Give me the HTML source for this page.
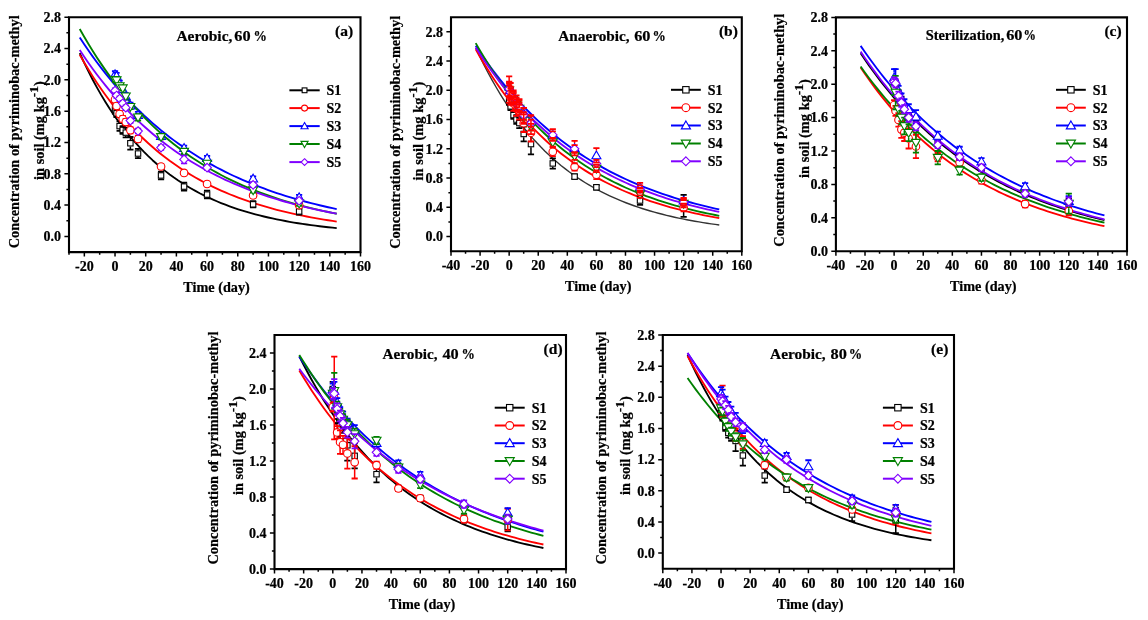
<!DOCTYPE html>
<html><head><meta charset="utf-8"><style>
html,body{margin:0;padding:0;background:#fff;width:1148px;height:620px;overflow:hidden}
svg{display:block;will-change:transform}
text{font-family:'Liberation Serif',serif;font-weight:bold;fill:#000;stroke:#000;stroke-width:0.22px}
</style></head><body>
<svg width="1148" height="620" viewBox="0 0 1148 620">
<rect width="1148" height="620" fill="#fff"/>
<polyline points="79.74,53.22 84.02,62.43 88.31,71.18 92.59,79.48 96.87,87.37 101.15,94.87 105.44,101.98 109.72,108.74 114,115.16 118.29,121.26 122.57,127.05 126.85,132.55 131.14,137.77 135.42,142.73 139.7,147.44 143.98,151.91 148.27,156.16 152.55,160.2 156.83,164.03 161.12,167.67 165.4,171.13 169.68,174.41 173.97,177.53 178.25,180.49 182.53,183.3 186.81,185.97 191.1,188.51 195.38,190.92 199.66,193.21 203.95,195.38 208.23,197.44 212.51,199.4 216.8,201.27 221.08,203.03 225.36,204.71 229.64,206.31 233.93,207.82 238.21,209.26 242.49,210.63 246.78,211.92 251.06,213.16 255.34,214.33 259.63,215.44 263.91,216.49 268.19,217.5 272.47,218.45 276.76,219.35 281.04,220.21 285.32,221.03 289.61,221.8 293.89,222.54 298.17,223.24 302.46,223.9 306.74,224.53 311.02,225.13 315.3,225.7 319.59,226.24 323.87,226.75 328.15,227.24 332.44,227.7 336.72,228.14" fill="none" stroke="#000000" stroke-width="1.85" stroke-linejoin="round"/>
<polyline points="79.74,54.78 84.02,62.2 88.31,69.32 92.59,76.15 96.87,82.7 101.15,88.98 105.44,95 109.72,100.78 114,106.32 118.29,111.63 122.57,116.73 126.85,121.62 131.14,126.31 135.42,130.81 139.7,135.12 143.98,139.26 148.27,143.23 152.55,147.04 156.83,150.69 161.12,154.19 165.4,157.55 169.68,160.78 173.97,163.87 178.25,166.83 182.53,169.67 186.81,172.4 191.1,175.02 195.38,177.53 199.66,179.93 203.95,182.24 208.23,184.45 212.51,186.58 216.8,188.61 221.08,190.57 225.36,192.44 229.64,194.24 233.93,195.96 238.21,197.62 242.49,199.2 246.78,200.72 251.06,202.18 255.34,203.58 259.63,204.92 263.91,206.21 268.19,207.45 272.47,208.63 276.76,209.77 281.04,210.86 285.32,211.9 289.61,212.9 293.89,213.86 298.17,214.79 302.46,215.67 306.74,216.52 311.02,217.33 315.3,218.11 319.59,218.86 323.87,219.58 328.15,220.27 332.44,220.93 336.72,221.56" fill="none" stroke="#FF0000" stroke-width="1.85" stroke-linejoin="round"/>
<polyline points="79.74,37.56 84.02,44.03 88.31,50.29 92.59,56.35 96.87,62.21 101.15,67.88 105.44,73.36 109.72,78.67 114,83.8 118.29,88.77 122.57,93.57 126.85,98.22 131.14,102.72 135.42,107.07 139.7,111.28 143.98,115.35 148.27,119.29 152.55,123.11 156.83,126.79 161.12,130.36 165.4,133.81 169.68,137.15 173.97,140.38 178.25,143.51 182.53,146.53 186.81,149.46 191.1,152.29 195.38,155.03 199.66,157.68 203.95,160.24 208.23,162.72 212.51,165.12 216.8,167.44 221.08,169.68 225.36,171.86 229.64,173.96 233.93,175.99 238.21,177.96 242.49,179.86 246.78,181.7 251.06,183.48 255.34,185.21 259.63,186.87 263.91,188.49 268.19,190.05 272.47,191.56 276.76,193.02 281.04,194.43 285.32,195.8 289.61,197.12 293.89,198.4 298.17,199.64 302.46,200.83 306.74,201.99 311.02,203.11 315.3,204.2 319.59,205.25 323.87,206.26 328.15,207.24 332.44,208.19 336.72,209.11" fill="none" stroke="#0000FF" stroke-width="1.85" stroke-linejoin="round"/>
<polyline points="79.74,28.94 84.02,36.46 88.31,43.7 92.59,50.67 96.87,57.4 101.15,63.88 105.44,70.13 109.72,76.15 114,81.95 118.29,87.54 122.57,92.94 126.85,98.13 131.14,103.14 135.42,107.96 139.7,112.61 143.98,117.1 148.27,121.42 152.55,125.58 156.83,129.6 161.12,133.46 165.4,137.19 169.68,140.78 173.97,144.25 178.25,147.58 182.53,150.8 186.81,153.9 191.1,156.89 195.38,159.77 199.66,162.55 203.95,165.22 208.23,167.8 212.51,170.28 216.8,172.68 221.08,174.99 225.36,177.21 229.64,179.36 233.93,181.42 238.21,183.41 242.49,185.33 246.78,187.18 251.06,188.97 255.34,190.69 259.63,192.34 263.91,193.94 268.19,195.48 272.47,196.96 276.76,198.39 281.04,199.77 285.32,201.09 289.61,202.37 293.89,203.61 298.17,204.8 302.46,205.94 306.74,207.05 311.02,208.11 315.3,209.14 319.59,210.12 323.87,211.08 328.15,212 332.44,212.88 336.72,213.73" fill="none" stroke="#008000" stroke-width="1.85" stroke-linejoin="round"/>
<polyline points="79.74,50.09 84.02,56.5 88.31,62.69 92.59,68.67 96.87,74.45 101.15,80.02 105.44,85.41 109.72,90.61 114,95.63 118.29,100.47 122.57,105.15 126.85,109.67 131.14,114.03 135.42,118.25 139.7,122.32 143.98,126.24 148.27,130.04 152.55,133.7 156.83,137.24 161.12,140.65 165.4,143.95 169.68,147.13 173.97,150.2 178.25,153.17 182.53,156.04 186.81,158.81 191.1,161.48 195.38,164.06 199.66,166.55 203.95,168.95 208.23,171.28 212.51,173.52 216.8,175.69 221.08,177.78 225.36,179.8 229.64,181.75 233.93,183.63 238.21,185.45 242.49,187.2 246.78,188.9 251.06,190.53 255.34,192.11 259.63,193.64 263.91,195.11 268.19,196.53 272.47,197.91 276.76,199.23 281.04,200.51 285.32,201.75 289.61,202.94 293.89,204.1 298.17,205.21 302.46,206.29 306.74,207.32 311.02,208.33 315.3,209.29 319.59,210.23 323.87,211.13 328.15,212 332.44,212.84 336.72,213.65" fill="none" stroke="#8000FF" stroke-width="1.85" stroke-linejoin="round"/>
<path d="M111.93 105.68H118.13M111.93 113.51H118.13" stroke="#000000" stroke-width="1.8" fill="none"/>
<path d="M115.03 105.68V106.29M115.03 112.89V113.51" stroke="#000000" stroke-width="1.5" fill="none"/>
<rect x="112.33" y="106.89" width="5.4" height="5.4" fill="#fff" stroke="#000000" stroke-width="1.1"/>
<path d="M113.46 109.36H119.66M113.46 117.19H119.66" stroke="#000000" stroke-width="1.8" fill="none"/>
<path d="M116.56 109.36V109.97M116.56 116.57V117.19" stroke="#000000" stroke-width="1.5" fill="none"/>
<rect x="113.86" y="110.57" width="5.4" height="5.4" fill="#fff" stroke="#000000" stroke-width="1.1"/>
<path d="M116.53 121.42H122.73M116.53 130.81H122.73" stroke="#000000" stroke-width="1.8" fill="none"/>
<path d="M119.63 121.42V122.82M119.63 129.42V130.81" stroke="#000000" stroke-width="1.5" fill="none"/>
<rect x="116.93" y="123.42" width="5.4" height="5.4" fill="#fff" stroke="#000000" stroke-width="1.1"/>
<path d="M119.6 126.04H125.8M119.6 133.87H125.8" stroke="#000000" stroke-width="1.8" fill="none"/>
<path d="M122.7 126.04V126.65M122.7 133.25V133.87" stroke="#000000" stroke-width="1.5" fill="none"/>
<rect x="120" y="127.25" width="5.4" height="5.4" fill="#fff" stroke="#000000" stroke-width="1.1"/>
<path d="M122.67 127.92H128.87M122.67 137.31H128.87" stroke="#000000" stroke-width="1.8" fill="none"/>
<path d="M125.77 127.92V129.31M125.77 135.91V137.31" stroke="#000000" stroke-width="1.5" fill="none"/>
<rect x="123.07" y="129.91" width="5.4" height="5.4" fill="#fff" stroke="#000000" stroke-width="1.1"/>
<path d="M127.27 137H133.47M127.27 149.53H133.47" stroke="#000000" stroke-width="1.8" fill="none"/>
<path d="M130.37 137V139.96M130.37 146.56V149.53" stroke="#000000" stroke-width="1.5" fill="none"/>
<rect x="127.67" y="140.56" width="5.4" height="5.4" fill="#fff" stroke="#000000" stroke-width="1.1"/>
<path d="M134.94 148.82H141.14M134.94 158.22H141.14" stroke="#000000" stroke-width="1.8" fill="none"/>
<path d="M138.04 148.82V150.22M138.04 156.82V158.22" stroke="#000000" stroke-width="1.5" fill="none"/>
<rect x="135.34" y="150.82" width="5.4" height="5.4" fill="#fff" stroke="#000000" stroke-width="1.1"/>
<path d="M157.95 171.53H164.15M157.95 179.36H164.15" stroke="#000000" stroke-width="1.8" fill="none"/>
<path d="M161.05 171.53V172.14M161.05 178.74V179.36" stroke="#000000" stroke-width="1.5" fill="none"/>
<rect x="158.35" y="172.74" width="5.4" height="5.4" fill="#fff" stroke="#000000" stroke-width="1.1"/>
<path d="M180.97 182.65H187.17M180.97 190.48H187.17" stroke="#000000" stroke-width="1.8" fill="none"/>
<path d="M184.07 182.65V183.26M184.07 189.86V190.48" stroke="#000000" stroke-width="1.5" fill="none"/>
<rect x="181.37" y="183.86" width="5.4" height="5.4" fill="#fff" stroke="#000000" stroke-width="1.1"/>
<path d="M203.98 190.63H210.18M203.98 198.46H210.18" stroke="#000000" stroke-width="1.8" fill="none"/>
<path d="M207.08 190.63V191.25M207.08 197.85V198.46" stroke="#000000" stroke-width="1.5" fill="none"/>
<rect x="204.38" y="191.85" width="5.4" height="5.4" fill="#fff" stroke="#000000" stroke-width="1.1"/>
<path d="M250.01 201.2H256.21M250.01 207.47H256.21" stroke="#000000" stroke-width="1.8" fill="none"/>
<rect x="250.41" y="201.64" width="5.4" height="5.4" fill="#fff" stroke="#000000" stroke-width="1.1"/>
<path d="M296.03 208.33H302.23M296.03 214.59H302.23" stroke="#000000" stroke-width="1.8" fill="none"/>
<rect x="296.43" y="208.76" width="5.4" height="5.4" fill="#fff" stroke="#000000" stroke-width="1.1"/>
<path d="M111.93 97.22H118.13M111.93 101.92H118.13" stroke="#FF0000" stroke-width="1.8" fill="none"/>
<circle cx="115.03" cy="99.57" r="3.8" fill="#fff" stroke="#FF0000" stroke-width="1.1"/>
<path d="M113.46 103.72H119.66M113.46 108.42H119.66" stroke="#FF0000" stroke-width="1.8" fill="none"/>
<circle cx="116.56" cy="106.07" r="3.8" fill="#fff" stroke="#FF0000" stroke-width="1.1"/>
<path d="M116.53 110.93H122.73M116.53 117.19H122.73" stroke="#FF0000" stroke-width="1.8" fill="none"/>
<circle cx="119.63" cy="114.06" r="3.8" fill="#fff" stroke="#FF0000" stroke-width="1.1"/>
<path d="M119.6 115.86H125.8M119.6 122.12H125.8" stroke="#FF0000" stroke-width="1.8" fill="none"/>
<circle cx="122.7" cy="118.99" r="3.8" fill="#fff" stroke="#FF0000" stroke-width="1.1"/>
<path d="M122.67 118.99H128.87M122.67 125.25H128.87" stroke="#FF0000" stroke-width="1.8" fill="none"/>
<circle cx="125.77" cy="122.12" r="3.8" fill="#fff" stroke="#FF0000" stroke-width="1.1"/>
<path d="M127.27 127.13H133.47M127.27 133.4H133.47" stroke="#FF0000" stroke-width="1.8" fill="none"/>
<circle cx="130.37" cy="130.27" r="3.8" fill="#fff" stroke="#FF0000" stroke-width="1.1"/>
<path d="M134.94 135.9H141.14M134.94 142.17H141.14" stroke="#FF0000" stroke-width="1.8" fill="none"/>
<circle cx="138.04" cy="139.03" r="3.8" fill="#fff" stroke="#FF0000" stroke-width="1.1"/>
<path d="M157.95 164.17H164.15M157.95 168.87H164.15" stroke="#FF0000" stroke-width="1.8" fill="none"/>
<circle cx="161.05" cy="166.52" r="3.8" fill="#fff" stroke="#FF0000" stroke-width="1.1"/>
<path d="M180.97 170.59H187.17M180.97 175.29H187.17" stroke="#FF0000" stroke-width="1.8" fill="none"/>
<circle cx="184.07" cy="172.94" r="3.8" fill="#fff" stroke="#FF0000" stroke-width="1.1"/>
<path d="M203.98 181.63H210.18M203.98 186.33H210.18" stroke="#FF0000" stroke-width="1.8" fill="none"/>
<circle cx="207.08" cy="183.98" r="3.8" fill="#fff" stroke="#FF0000" stroke-width="1.1"/>
<path d="M250.01 193.06H256.21M250.01 197.76H256.21" stroke="#FF0000" stroke-width="1.8" fill="none"/>
<circle cx="253.11" cy="195.41" r="3.8" fill="#fff" stroke="#FF0000" stroke-width="1.1"/>
<path d="M296.03 202.93H302.23M296.03 207.63H302.23" stroke="#FF0000" stroke-width="1.8" fill="none"/>
<circle cx="299.13" cy="205.28" r="3.8" fill="#fff" stroke="#FF0000" stroke-width="1.1"/>
<path d="M111.93 71.23H118.13M111.93 77.49H118.13" stroke="#0000FF" stroke-width="1.8" fill="none"/>
<path d="M115.03 69.87L119.53 77.67L110.53 77.67Z" fill="#fff" stroke="#0000FF" stroke-width="1.1"/>
<path d="M113.46 72.79H119.66M113.46 79.06H119.66" stroke="#0000FF" stroke-width="1.8" fill="none"/>
<path d="M116.56 71.44L121.06 79.24L112.06 79.24Z" fill="#fff" stroke="#0000FF" stroke-width="1.1"/>
<path d="M116.53 80.62H122.73M116.53 86.89H122.73" stroke="#0000FF" stroke-width="1.8" fill="none"/>
<path d="M119.63 79.27L124.13 87.07L115.13 87.07Z" fill="#fff" stroke="#0000FF" stroke-width="1.1"/>
<path d="M119.6 86.1H125.8M119.6 92.37H125.8" stroke="#0000FF" stroke-width="1.8" fill="none"/>
<path d="M122.7 84.75L127.2 92.55L118.2 92.55Z" fill="#fff" stroke="#0000FF" stroke-width="1.1"/>
<path d="M122.67 93.15H128.87M122.67 99.41H128.87" stroke="#0000FF" stroke-width="1.8" fill="none"/>
<path d="M125.77 91.8L130.27 99.6L121.27 99.6Z" fill="#fff" stroke="#0000FF" stroke-width="1.1"/>
<path d="M127.27 102.55H133.47M127.27 108.81H133.47" stroke="#0000FF" stroke-width="1.8" fill="none"/>
<path d="M130.37 101.19L134.87 108.99L125.87 108.99Z" fill="#fff" stroke="#0000FF" stroke-width="1.1"/>
<path d="M134.94 111.94H141.14M134.94 118.21H141.14" stroke="#0000FF" stroke-width="1.8" fill="none"/>
<path d="M138.04 110.59L142.54 118.39L133.54 118.39Z" fill="#fff" stroke="#0000FF" stroke-width="1.1"/>
<path d="M157.95 133.87H164.15M157.95 138.56H164.15" stroke="#0000FF" stroke-width="1.8" fill="none"/>
<path d="M161.05 131.73L165.55 139.53L156.55 139.53Z" fill="#fff" stroke="#0000FF" stroke-width="1.1"/>
<path d="M180.97 145.69H187.17M180.97 150.39H187.17" stroke="#0000FF" stroke-width="1.8" fill="none"/>
<path d="M184.07 143.55L188.57 151.35L179.57 151.35Z" fill="#fff" stroke="#0000FF" stroke-width="1.1"/>
<path d="M203.98 155.87H210.18M203.98 160.57H210.18" stroke="#0000FF" stroke-width="1.8" fill="none"/>
<path d="M207.08 153.73L211.58 161.53L202.58 161.53Z" fill="#fff" stroke="#0000FF" stroke-width="1.1"/>
<path d="M250.01 176.31H256.21M250.01 181H256.21" stroke="#0000FF" stroke-width="1.8" fill="none"/>
<path d="M253.11 174.17L257.61 181.97L248.61 181.97Z" fill="#fff" stroke="#0000FF" stroke-width="1.1"/>
<path d="M296.03 194.94H302.23M296.03 199.64H302.23" stroke="#0000FF" stroke-width="1.8" fill="none"/>
<path d="M299.13 192.81L303.63 200.6L294.63 200.6Z" fill="#fff" stroke="#0000FF" stroke-width="1.1"/>
<path d="M111.93 77.49H118.13M111.93 82.19H118.13" stroke="#008000" stroke-width="1.8" fill="none"/>
<path d="M115.03 84.32L119.53 76.52L110.53 76.52Z" fill="#fff" stroke="#008000" stroke-width="1.1"/>
<path d="M113.46 77.88H119.66M113.46 82.58H119.66" stroke="#008000" stroke-width="1.8" fill="none"/>
<path d="M116.56 84.72L121.06 76.92L112.06 76.92Z" fill="#fff" stroke="#008000" stroke-width="1.1"/>
<path d="M116.53 83.75H122.73M116.53 88.45H122.73" stroke="#008000" stroke-width="1.8" fill="none"/>
<path d="M119.63 90.59L124.13 82.79L115.13 82.79Z" fill="#fff" stroke="#008000" stroke-width="1.1"/>
<path d="M119.6 85.87H125.8M119.6 90.57H125.8" stroke="#008000" stroke-width="1.8" fill="none"/>
<path d="M122.7 92.7L127.2 84.9L118.2 84.9Z" fill="#fff" stroke="#008000" stroke-width="1.1"/>
<path d="M122.67 94.01H128.87M122.67 98.71H128.87" stroke="#008000" stroke-width="1.8" fill="none"/>
<path d="M125.77 100.85L130.27 93.05L121.27 93.05Z" fill="#fff" stroke="#008000" stroke-width="1.1"/>
<path d="M127.27 104.5H133.47M127.27 109.2H133.47" stroke="#008000" stroke-width="1.8" fill="none"/>
<path d="M130.37 111.34L134.87 103.54L125.87 103.54Z" fill="#fff" stroke="#008000" stroke-width="1.1"/>
<path d="M134.94 114.21H141.14M134.94 120.48H141.14" stroke="#008000" stroke-width="1.8" fill="none"/>
<path d="M138.04 121.83L142.54 114.03L133.54 114.03Z" fill="#fff" stroke="#008000" stroke-width="1.1"/>
<path d="M157.95 134.57H164.15M157.95 139.27H164.15" stroke="#008000" stroke-width="1.8" fill="none"/>
<path d="M161.05 141.41L165.55 133.61L156.55 133.61Z" fill="#fff" stroke="#008000" stroke-width="1.1"/>
<path d="M180.97 149.29H187.17M180.97 153.99H187.17" stroke="#008000" stroke-width="1.8" fill="none"/>
<path d="M184.07 156.13L188.57 148.33L179.57 148.33Z" fill="#fff" stroke="#008000" stroke-width="1.1"/>
<path d="M203.98 161.19H210.18M203.98 165.89H210.18" stroke="#008000" stroke-width="1.8" fill="none"/>
<path d="M207.08 168.03L211.58 160.23L202.58 160.23Z" fill="#fff" stroke="#008000" stroke-width="1.1"/>
<path d="M250.01 187.82H256.21M250.01 192.51H256.21" stroke="#008000" stroke-width="1.8" fill="none"/>
<path d="M253.11 194.65L257.61 186.85L248.61 186.85Z" fill="#fff" stroke="#008000" stroke-width="1.1"/>
<path d="M296.03 201.13H302.23M296.03 205.82H302.23" stroke="#008000" stroke-width="1.8" fill="none"/>
<path d="M299.13 207.96L303.63 200.16L294.63 200.16Z" fill="#fff" stroke="#008000" stroke-width="1.1"/>
<path d="M111.93 88.3H118.13M111.93 92.99H118.13" stroke="#8000FF" stroke-width="1.8" fill="none"/>
<path d="M115.03 86.35L119.33 90.65L115.03 94.95L110.73 90.65Z" fill="#fff" stroke="#8000FF" stroke-width="1.1"/>
<path d="M113.46 93.15H119.66M113.46 97.85H119.66" stroke="#8000FF" stroke-width="1.8" fill="none"/>
<path d="M116.56 91.2L120.86 95.5L116.56 99.8L112.26 95.5Z" fill="#fff" stroke="#8000FF" stroke-width="1.1"/>
<path d="M116.53 96.36H122.73M116.53 101.06H122.73" stroke="#8000FF" stroke-width="1.8" fill="none"/>
<path d="M119.63 94.41L123.93 98.71L119.63 103.01L115.33 98.71Z" fill="#fff" stroke="#8000FF" stroke-width="1.1"/>
<path d="M119.6 100.98H125.8M119.6 105.68H125.8" stroke="#8000FF" stroke-width="1.8" fill="none"/>
<path d="M122.7 99.03L127 103.33L122.7 107.63L118.4 103.33Z" fill="#fff" stroke="#8000FF" stroke-width="1.1"/>
<path d="M122.67 105.29H128.87M122.67 109.99H128.87" stroke="#8000FF" stroke-width="1.8" fill="none"/>
<path d="M125.77 103.34L130.07 107.64L125.77 111.94L121.47 107.64Z" fill="#fff" stroke="#8000FF" stroke-width="1.1"/>
<path d="M127.27 118.21H133.47M127.27 122.91H133.47" stroke="#8000FF" stroke-width="1.8" fill="none"/>
<path d="M130.37 116.26L134.67 120.56L130.37 124.86L126.07 120.56Z" fill="#fff" stroke="#8000FF" stroke-width="1.1"/>
<path d="M134.94 128.7H141.14M134.94 133.4H141.14" stroke="#8000FF" stroke-width="1.8" fill="none"/>
<path d="M138.04 126.75L142.34 131.05L138.04 135.35L133.74 131.05Z" fill="#fff" stroke="#8000FF" stroke-width="1.1"/>
<path d="M157.95 145.22H164.15M157.95 149.92H164.15" stroke="#8000FF" stroke-width="1.8" fill="none"/>
<path d="M161.05 143.27L165.35 147.57L161.05 151.87L156.75 147.57Z" fill="#fff" stroke="#8000FF" stroke-width="1.1"/>
<path d="M180.97 155.56H187.17M180.97 163.39H187.17" stroke="#8000FF" stroke-width="1.8" fill="none"/>
<path d="M184.07 155.17L188.37 159.47L184.07 163.77L179.77 159.47Z" fill="#fff" stroke="#8000FF" stroke-width="1.1"/>
<path d="M203.98 165.27H210.18M203.98 169.96H210.18" stroke="#8000FF" stroke-width="1.8" fill="none"/>
<path d="M207.08 163.31L211.38 167.61L207.08 171.91L202.78 167.61Z" fill="#fff" stroke="#8000FF" stroke-width="1.1"/>
<path d="M250.01 182.49H256.21M250.01 187.19H256.21" stroke="#8000FF" stroke-width="1.8" fill="none"/>
<path d="M253.11 180.54L257.41 184.84L253.11 189.14L248.81 184.84Z" fill="#fff" stroke="#8000FF" stroke-width="1.1"/>
<path d="M296.03 198.39H302.23M296.03 203.08H302.23" stroke="#8000FF" stroke-width="1.8" fill="none"/>
<path d="M299.13 196.44L303.43 200.74L299.13 205.04L294.83 200.74Z" fill="#fff" stroke="#8000FF" stroke-width="1.1"/>
<path d="M69 17.2H360.5V252.1H69Z" fill="none" stroke="#000" stroke-width="2.1"/>
<text x="61" y="241.14" text-anchor="end" font-size="14">0.0</text>
<text x="61" y="209.82" text-anchor="end" font-size="14">0.4</text>
<text x="61" y="178.5" text-anchor="end" font-size="14">0.8</text>
<text x="61" y="147.18" text-anchor="end" font-size="14">1.2</text>
<text x="61" y="115.86" text-anchor="end" font-size="14">1.6</text>
<text x="61" y="84.54" text-anchor="end" font-size="14">2.0</text>
<text x="61" y="53.22" text-anchor="end" font-size="14">2.4</text>
<text x="61" y="21.9" text-anchor="end" font-size="14">2.8</text>
<text x="84.34" y="271.3" text-anchor="middle" font-size="14">-20</text>
<text x="115.03" y="271.3" text-anchor="middle" font-size="14">0</text>
<text x="145.71" y="271.3" text-anchor="middle" font-size="14">20</text>
<text x="176.39" y="271.3" text-anchor="middle" font-size="14">40</text>
<text x="207.08" y="271.3" text-anchor="middle" font-size="14">60</text>
<text x="237.76" y="271.3" text-anchor="middle" font-size="14">80</text>
<text x="268.45" y="271.3" text-anchor="middle" font-size="14">100</text>
<text x="299.13" y="271.3" text-anchor="middle" font-size="14">120</text>
<text x="329.82" y="271.3" text-anchor="middle" font-size="14">140</text>
<text x="360.5" y="271.3" text-anchor="middle" font-size="14">160</text>
<path d="M64.4 236.44H69M64.4 205.12H69M64.4 173.8H69M64.4 142.48H69M64.4 111.16H69M64.4 79.84H69M64.4 48.52H69M64.4 17.2H69M66.4 220.78H69M66.4 189.46H69M66.4 158.14H69M66.4 126.82H69M66.4 95.5H69M66.4 64.18H69M66.4 32.86H69M84.34 252.1V256.6M115.03 252.1V256.6M145.71 252.1V256.6M176.39 252.1V256.6M207.08 252.1V256.6M237.76 252.1V256.6M268.45 252.1V256.6M299.13 252.1V256.6M329.82 252.1V256.6M360.5 252.1V256.6M69 252.1V254.7M99.68 252.1V254.7M130.37 252.1V254.7M161.05 252.1V254.7M191.74 252.1V254.7M222.42 252.1V254.7M253.11 252.1V254.7M283.79 252.1V254.7M314.47 252.1V254.7M345.16 252.1V254.7" stroke="#000" stroke-width="1.5"/>
<text x="216.55" y="291.9" text-anchor="middle" font-size="14" textLength="66.5" lengthAdjust="spacingAndGlyphs">Time (day)</text>
<text transform="translate(18.6,131.75) rotate(-90)" text-anchor="middle" font-size="14.4" textLength="233" lengthAdjust="spacingAndGlyphs">Concentration of pyriminobac-methyl</text>
<text transform="translate(43.5,130.5) rotate(-90)" text-anchor="middle" font-size="14.4">in soil (mg kg<tspan dy="-6" font-size="13.5">-1</tspan><tspan dy="6">)</tspan></text>
<text x="176.4" y="41.2" font-size="15" textLength="56" lengthAdjust="spacingAndGlyphs">Aerobic,</text>
<text x="234.3" y="41.2" font-size="15" textLength="16.3" lengthAdjust="spacingAndGlyphs">60</text>
<text x="253.5" y="41.2" font-size="15" textLength="13.4" lengthAdjust="spacingAndGlyphs">%</text>
<text x="335" y="36.3" font-size="15.5">(a)</text>
<path d="M289.4 90.3H319.7" stroke="#000000" stroke-width="2"/>
<rect x="302.15" y="87.9" width="4.8" height="4.8" fill="#fff" stroke="#000000" stroke-width="1.1"/>
<text x="326.5" y="95.2" font-size="14">S1</text>
<path d="M289.4 108.1H319.7" stroke="#FF0000" stroke-width="2"/>
<circle cx="304.55" cy="108.1" r="3" fill="#fff" stroke="#FF0000" stroke-width="1.1"/>
<text x="326.5" y="113" font-size="14">S2</text>
<path d="M289.4 126.1H319.7" stroke="#0000FF" stroke-width="2"/>
<path d="M304.55 122.55L308.11 128.72L300.99 128.72Z" fill="#fff" stroke="#0000FF" stroke-width="1.1"/>
<text x="326.5" y="131" font-size="14">S3</text>
<path d="M289.4 144H319.7" stroke="#008000" stroke-width="2"/>
<path d="M304.55 147.55L308.11 141.38L300.99 141.38Z" fill="#fff" stroke="#008000" stroke-width="1.1"/>
<text x="326.5" y="148.9" font-size="14">S4</text>
<path d="M289.4 162.1H319.7" stroke="#8000FF" stroke-width="2"/>
<path d="M304.55 158.7L307.95 162.1L304.55 165.5L301.15 162.1Z" fill="#fff" stroke="#8000FF" stroke-width="1.1"/>
<text x="326.5" y="167" font-size="14">S5</text>
<polyline points="475.72,47.91 479.78,56.47 483.84,64.65 487.9,72.45 491.95,79.9 496.01,87.01 500.07,93.8 504.13,100.28 508.19,106.46 512.25,112.37 516.31,118 520.37,123.38 524.43,128.52 528.49,133.42 532.55,138.11 536.6,142.57 540.66,146.84 544.72,150.91 548.78,154.8 552.84,158.51 556.9,162.05 560.96,165.44 565.02,168.66 569.08,171.75 573.14,174.69 577.2,177.5 581.25,180.18 585.31,182.74 589.37,185.18 593.43,187.51 597.49,189.74 601.55,191.87 605.61,193.89 609.67,195.83 613.73,197.68 617.79,199.45 621.85,201.13 625.9,202.74 629.96,204.27 634.02,205.74 638.08,207.14 642.14,208.48 646.2,209.75 650.26,210.97 654.32,212.13 658.38,213.24 662.44,214.3 666.49,215.31 670.55,216.27 674.61,217.2 678.67,218.08 682.73,218.91 686.79,219.72 690.85,220.48 694.91,221.21 698.97,221.91 703.03,222.57 707.09,223.21 711.14,223.82 715.2,224.4 719.26,224.95" fill="none" stroke="#333333" stroke-width="1.4" stroke-linejoin="round"/>
<polyline points="475.72,49.37 479.78,56.47 483.84,63.3 487.9,69.86 491.95,76.18 496.01,82.26 500.07,88.11 504.13,93.74 508.19,99.15 512.25,104.36 516.31,109.37 520.37,114.19 524.43,118.83 528.49,123.29 532.55,127.59 536.6,131.72 540.66,135.69 544.72,139.52 548.78,143.19 552.84,146.73 556.9,150.14 560.96,153.42 565.02,156.57 569.08,159.6 573.14,162.52 577.2,165.32 581.25,168.02 585.31,170.62 589.37,173.12 593.43,175.53 597.49,177.84 601.55,180.07 605.61,182.21 609.67,184.27 613.73,186.25 617.79,188.16 621.85,189.99 625.9,191.76 629.96,193.46 634.02,195.09 638.08,196.67 642.14,198.18 646.2,199.63 650.26,201.03 654.32,202.38 658.38,203.68 662.44,204.92 666.49,206.12 670.55,207.28 674.61,208.39 678.67,209.46 682.73,210.48 686.79,211.47 690.85,212.42 694.91,213.34 698.97,214.22 703.03,215.07 707.09,215.88 711.14,216.67 715.2,217.42 719.26,218.15" fill="none" stroke="#FF0000" stroke-width="1.85" stroke-linejoin="round"/>
<polyline points="475.72,45.72 479.78,51.82 483.84,57.74 487.9,63.46 491.95,69 496.01,74.36 500.07,79.55 504.13,84.57 508.19,89.43 512.25,94.14 516.31,98.7 520.37,103.11 524.43,107.38 528.49,111.51 532.55,115.51 536.6,119.39 540.66,123.13 544.72,126.76 548.78,130.28 552.84,133.68 556.9,136.97 560.96,140.16 565.02,143.24 569.08,146.23 573.14,149.12 577.2,151.91 581.25,154.62 585.31,157.25 589.37,159.78 593.43,162.24 597.49,164.62 601.55,166.92 605.61,169.15 609.67,171.31 613.73,173.39 617.79,175.41 621.85,177.37 625.9,179.27 629.96,181.1 634.02,182.87 638.08,184.59 642.14,186.25 646.2,187.86 650.26,189.42 654.32,190.93 658.38,192.39 662.44,193.81 666.49,195.17 670.55,196.5 674.61,197.78 678.67,199.02 682.73,200.22 686.79,201.39 690.85,202.51 694.91,203.6 698.97,204.66 703.03,205.68 707.09,206.67 711.14,207.62 715.2,208.55 719.26,209.45" fill="none" stroke="#0000FF" stroke-width="1.85" stroke-linejoin="round"/>
<polyline points="475.72,43.16 479.78,50.22 483.84,57.02 487.9,63.58 491.95,69.89 496.01,75.98 500.07,81.84 504.13,87.49 508.19,92.93 512.25,98.18 516.31,103.23 520.37,108.1 524.43,112.79 528.49,117.31 532.55,121.66 536.6,125.86 540.66,129.9 544.72,133.79 548.78,137.55 552.84,141.16 556.9,144.65 560.96,148 565.02,151.24 569.08,154.35 573.14,157.35 577.2,160.24 581.25,163.03 585.31,165.72 589.37,168.3 593.43,170.8 597.49,173.2 601.55,175.51 605.61,177.74 609.67,179.89 613.73,181.96 617.79,183.95 621.85,185.87 625.9,187.72 629.96,189.51 634.02,191.23 638.08,192.88 642.14,194.48 646.2,196.01 650.26,197.49 654.32,198.92 658.38,200.3 662.44,201.62 666.49,202.9 670.55,204.13 674.61,205.31 678.67,206.45 682.73,207.55 686.79,208.61 690.85,209.63 694.91,210.62 698.97,211.56 703.03,212.48 707.09,213.36 711.14,214.2 715.2,215.02 719.26,215.81" fill="none" stroke="#008000" stroke-width="1.85" stroke-linejoin="round"/>
<polyline points="475.72,47.55 479.78,53.86 483.84,59.96 487.9,65.85 491.95,71.55 496.01,77.06 500.07,82.39 504.13,87.54 508.19,92.51 512.25,97.32 516.31,101.97 520.37,106.47 524.43,110.81 528.49,115.01 532.55,119.07 536.6,122.99 540.66,126.78 544.72,130.45 548.78,133.99 552.84,137.42 556.9,140.73 560.96,143.93 565.02,147.02 569.08,150.01 573.14,152.9 577.2,155.69 581.25,158.39 585.31,161 589.37,163.53 593.43,165.97 597.49,168.32 601.55,170.6 605.61,172.8 609.67,174.93 613.73,176.99 617.79,178.98 621.85,180.9 625.9,182.76 629.96,184.56 634.02,186.3 638.08,187.97 642.14,189.6 646.2,191.17 650.26,192.68 654.32,194.15 658.38,195.56 662.44,196.93 666.49,198.26 670.55,199.54 674.61,200.77 678.67,201.97 682.73,203.12 686.79,204.24 690.85,205.32 694.91,206.36 698.97,207.37 703.03,208.35 707.09,209.29 711.14,210.2 715.2,211.08 719.26,211.93" fill="none" stroke="#8000FF" stroke-width="1.85" stroke-linejoin="round"/>
<path d="M506.06 97.64H512.26M506.06 104.95H512.26" stroke="#000000" stroke-width="1.8" fill="none"/>
<path d="M509.16 97.64V97.99M509.16 104.59V104.95" stroke="#000000" stroke-width="1.5" fill="none"/>
<rect x="506.46" y="98.59" width="5.4" height="5.4" fill="#fff" stroke="#000000" stroke-width="1.1"/>
<path d="M507.51 102.76H513.71M507.51 110.07H513.71" stroke="#000000" stroke-width="1.8" fill="none"/>
<path d="M510.61 102.76V103.11M510.61 109.71V110.07" stroke="#000000" stroke-width="1.5" fill="none"/>
<rect x="507.91" y="103.71" width="5.4" height="5.4" fill="#fff" stroke="#000000" stroke-width="1.1"/>
<path d="M510.42 111.46H516.62M510.42 118.77H516.62" stroke="#000000" stroke-width="1.8" fill="none"/>
<path d="M513.52 111.46V111.81M513.52 118.41V118.77" stroke="#000000" stroke-width="1.5" fill="none"/>
<rect x="510.82" y="112.41" width="5.4" height="5.4" fill="#fff" stroke="#000000" stroke-width="1.1"/>
<path d="M513.33 115.19H519.53M513.33 123.96H519.53" stroke="#000000" stroke-width="1.8" fill="none"/>
<path d="M516.43 115.19V116.27M516.43 122.87V123.96" stroke="#000000" stroke-width="1.5" fill="none"/>
<rect x="513.73" y="116.87" width="5.4" height="5.4" fill="#fff" stroke="#000000" stroke-width="1.1"/>
<path d="M516.24 117.97H522.44M516.24 128.2H522.44" stroke="#000000" stroke-width="1.8" fill="none"/>
<path d="M519.34 117.97V119.78M519.34 126.38V128.2" stroke="#000000" stroke-width="1.5" fill="none"/>
<rect x="516.64" y="120.38" width="5.4" height="5.4" fill="#fff" stroke="#000000" stroke-width="1.1"/>
<path d="M520.6 126.67H526.8M520.6 141.29H526.8" stroke="#000000" stroke-width="1.8" fill="none"/>
<path d="M523.7 126.67V130.68M523.7 137.28V141.29" stroke="#000000" stroke-width="1.5" fill="none"/>
<rect x="521" y="131.28" width="5.4" height="5.4" fill="#fff" stroke="#000000" stroke-width="1.1"/>
<path d="M527.87 133.83H534.07M527.87 154.31H534.07" stroke="#000000" stroke-width="1.8" fill="none"/>
<path d="M530.97 133.83V140.77M530.97 147.37V154.31" stroke="#000000" stroke-width="1.5" fill="none"/>
<rect x="528.27" y="141.37" width="5.4" height="5.4" fill="#fff" stroke="#000000" stroke-width="1.1"/>
<path d="M549.68 158.33H555.88M549.68 168.57H555.88" stroke="#000000" stroke-width="1.8" fill="none"/>
<path d="M552.78 158.33V160.15M552.78 166.75V168.57" stroke="#000000" stroke-width="1.5" fill="none"/>
<rect x="550.08" y="160.75" width="5.4" height="5.4" fill="#fff" stroke="#000000" stroke-width="1.1"/>
<path d="M571.49 174.42H577.69M571.49 178.81H577.69" stroke="#000000" stroke-width="1.8" fill="none"/>
<rect x="571.89" y="173.91" width="5.4" height="5.4" fill="#fff" stroke="#000000" stroke-width="1.1"/>
<path d="M593.3 185.09H599.5M593.3 189.48H599.5" stroke="#000000" stroke-width="1.8" fill="none"/>
<rect x="593.7" y="184.59" width="5.4" height="5.4" fill="#fff" stroke="#000000" stroke-width="1.1"/>
<path d="M636.92 196.14H643.12M636.92 204.91H643.12" stroke="#000000" stroke-width="1.8" fill="none"/>
<path d="M640.02 196.14V197.22M640.02 203.82V204.91" stroke="#000000" stroke-width="1.5" fill="none"/>
<rect x="637.32" y="197.82" width="5.4" height="5.4" fill="#fff" stroke="#000000" stroke-width="1.1"/>
<path d="M680.54 194.89H686.74M680.54 216.83H686.74" stroke="#000000" stroke-width="1.8" fill="none"/>
<path d="M683.64 194.89V202.56M683.64 209.16V216.83" stroke="#000000" stroke-width="1.5" fill="none"/>
<rect x="680.94" y="203.16" width="5.4" height="5.4" fill="#fff" stroke="#000000" stroke-width="1.1"/>
<circle cx="509.16" cy="93.98" r="3.8" fill="#fff" stroke="#FF0000" stroke-width="1.1"/>
<circle cx="510.61" cy="97.64" r="3.8" fill="#fff" stroke="#FF0000" stroke-width="1.1"/>
<circle cx="513.52" cy="103.49" r="3.8" fill="#fff" stroke="#FF0000" stroke-width="1.1"/>
<circle cx="516.43" cy="108.61" r="3.8" fill="#fff" stroke="#FF0000" stroke-width="1.1"/>
<circle cx="519.34" cy="112.26" r="3.8" fill="#fff" stroke="#FF0000" stroke-width="1.1"/>
<circle cx="523.7" cy="123.23" r="3.8" fill="#fff" stroke="#FF0000" stroke-width="1.1"/>
<circle cx="530.97" cy="132.74" r="3.8" fill="#fff" stroke="#FF0000" stroke-width="1.1"/>
<circle cx="552.78" cy="151.75" r="3.8" fill="#fff" stroke="#FF0000" stroke-width="1.1"/>
<circle cx="574.59" cy="166.89" r="3.8" fill="#fff" stroke="#FF0000" stroke-width="1.1"/>
<circle cx="596.4" cy="174.78" r="3.8" fill="#fff" stroke="#FF0000" stroke-width="1.1"/>
<circle cx="640.02" cy="191.68" r="3.8" fill="#fff" stroke="#FF0000" stroke-width="1.1"/>
<circle cx="683.64" cy="207.62" r="3.8" fill="#fff" stroke="#FF0000" stroke-width="1.1"/>
<path d="M509.16 82.18L513.66 89.98L504.66 89.98Z" fill="#fff" stroke="#0000FF" stroke-width="1.1"/>
<path d="M510.61 85.84L515.11 93.64L506.11 93.64Z" fill="#fff" stroke="#0000FF" stroke-width="1.1"/>
<path d="M513.52 91.69L518.02 99.49L509.02 99.49Z" fill="#fff" stroke="#0000FF" stroke-width="1.1"/>
<path d="M516.43 96.81L520.93 104.61L511.93 104.61Z" fill="#fff" stroke="#0000FF" stroke-width="1.1"/>
<path d="M519.34 100.46L523.84 108.26L514.84 108.26Z" fill="#fff" stroke="#0000FF" stroke-width="1.1"/>
<path d="M523.7 109.24L528.2 117.04L519.2 117.04Z" fill="#fff" stroke="#0000FF" stroke-width="1.1"/>
<path d="M530.97 116.55L535.47 124.35L526.47 124.35Z" fill="#fff" stroke="#0000FF" stroke-width="1.1"/>
<path d="M552.78 130.45L557.28 138.25L548.28 138.25Z" fill="#fff" stroke="#0000FF" stroke-width="1.1"/>
<path d="M574.59 143.61L579.09 151.41L570.09 151.41Z" fill="#fff" stroke="#0000FF" stroke-width="1.1"/>
<path d="M596.4 150.92L600.9 158.72L591.9 158.72Z" fill="#fff" stroke="#0000FF" stroke-width="1.1"/>
<path d="M640.02 182.8L644.52 190.6L635.52 190.6Z" fill="#fff" stroke="#0000FF" stroke-width="1.1"/>
<path d="M683.64 196.26L688.14 204.06L679.14 204.06Z" fill="#fff" stroke="#0000FF" stroke-width="1.1"/>
<path d="M509.16 94.81L513.66 87.01L504.66 87.01Z" fill="#fff" stroke="#008000" stroke-width="1.1"/>
<path d="M510.61 98.47L515.11 90.67L506.11 90.67Z" fill="#fff" stroke="#008000" stroke-width="1.1"/>
<path d="M513.52 103.58L518.02 95.78L509.02 95.78Z" fill="#fff" stroke="#008000" stroke-width="1.1"/>
<path d="M516.43 109.43L520.93 101.63L511.93 101.63Z" fill="#fff" stroke="#008000" stroke-width="1.1"/>
<path d="M519.34 113.09L523.84 105.29L514.84 105.29Z" fill="#fff" stroke="#008000" stroke-width="1.1"/>
<path d="M523.7 122.6L528.2 114.8L519.2 114.8Z" fill="#fff" stroke="#008000" stroke-width="1.1"/>
<path d="M530.97 131.37L535.47 123.57L526.47 123.57Z" fill="#fff" stroke="#008000" stroke-width="1.1"/>
<path d="M552.78 146.73L557.28 138.93L548.28 138.93Z" fill="#fff" stroke="#008000" stroke-width="1.1"/>
<path d="M574.59 160.62L579.09 152.82L570.09 152.82Z" fill="#fff" stroke="#008000" stroke-width="1.1"/>
<path d="M596.4 173.05L600.9 165.25L591.9 165.25Z" fill="#fff" stroke="#008000" stroke-width="1.1"/>
<path d="M640.02 198.65L644.52 190.85L635.52 190.85Z" fill="#fff" stroke="#008000" stroke-width="1.1"/>
<path d="M683.64 208.15L688.14 200.35L679.14 200.35Z" fill="#fff" stroke="#008000" stroke-width="1.1"/>
<path d="M509.16 84.56L513.46 88.86L509.16 93.16L504.86 88.86Z" fill="#fff" stroke="#8000FF" stroke-width="1.1"/>
<path d="M510.61 88.22L514.91 92.52L510.61 96.82L506.31 92.52Z" fill="#fff" stroke="#8000FF" stroke-width="1.1"/>
<path d="M513.52 93.34L517.82 97.64L513.52 101.94L509.22 97.64Z" fill="#fff" stroke="#8000FF" stroke-width="1.1"/>
<path d="M516.43 99.19L520.73 103.49L516.43 107.79L512.13 103.49Z" fill="#fff" stroke="#8000FF" stroke-width="1.1"/>
<path d="M519.34 102.11L523.64 106.41L519.34 110.71L515.04 106.41Z" fill="#fff" stroke="#8000FF" stroke-width="1.1"/>
<path d="M523.7 110.89L528 115.19L523.7 119.49L519.4 115.19Z" fill="#fff" stroke="#8000FF" stroke-width="1.1"/>
<path d="M530.97 118.93L535.27 123.23L530.97 127.53L526.67 123.23Z" fill="#fff" stroke="#8000FF" stroke-width="1.1"/>
<path d="M552.78 130.63L557.08 134.93L552.78 139.23L548.48 134.93Z" fill="#fff" stroke="#8000FF" stroke-width="1.1"/>
<path d="M574.59 144.52L578.89 148.82L574.59 153.12L570.29 148.82Z" fill="#fff" stroke="#8000FF" stroke-width="1.1"/>
<path d="M596.4 159.15L600.7 163.45L596.4 167.75L592.1 163.45Z" fill="#fff" stroke="#8000FF" stroke-width="1.1"/>
<path d="M640.02 184.74L644.32 189.04L640.02 193.34L635.72 189.04Z" fill="#fff" stroke="#8000FF" stroke-width="1.1"/>
<path d="M683.64 197.91L687.94 202.21L683.64 206.51L679.34 202.21Z" fill="#fff" stroke="#8000FF" stroke-width="1.1"/>
<path d="M506.06 85.21H512.26M506.06 102.76H512.26" stroke="#FF0000" stroke-width="1.8" fill="none"/>
<path d="M509.16 85.21V89.58M509.16 98.38V102.76" stroke="#FF0000" stroke-width="1.5" fill="none"/>
<path d="M507.51 90.32H513.71M507.51 104.95H513.71" stroke="#FF0000" stroke-width="1.8" fill="none"/>
<path d="M510.61 90.32V93.24M510.61 102.04V104.95" stroke="#FF0000" stroke-width="1.5" fill="none"/>
<path d="M510.42 96.17H516.62M510.42 110.8H516.62" stroke="#FF0000" stroke-width="1.8" fill="none"/>
<path d="M513.52 96.17V99.09M513.52 107.89V110.8" stroke="#FF0000" stroke-width="1.5" fill="none"/>
<path d="M513.33 101.29H519.53M513.33 115.92H519.53" stroke="#FF0000" stroke-width="1.8" fill="none"/>
<path d="M516.43 101.29V104.21M516.43 113.01V115.92" stroke="#FF0000" stroke-width="1.5" fill="none"/>
<path d="M516.24 104.95H522.44M516.24 119.58H522.44" stroke="#FF0000" stroke-width="1.8" fill="none"/>
<path d="M519.34 104.95V107.86M519.34 116.66V119.58" stroke="#FF0000" stroke-width="1.5" fill="none"/>
<path d="M520.6 114.46H526.8M520.6 132.01H526.8" stroke="#FF0000" stroke-width="1.8" fill="none"/>
<path d="M523.7 114.46V118.83M523.7 127.63V132.01" stroke="#FF0000" stroke-width="1.5" fill="none"/>
<path d="M527.87 123.96H534.07M527.87 141.51H534.07" stroke="#FF0000" stroke-width="1.8" fill="none"/>
<path d="M530.97 123.96V128.34M530.97 137.14V141.51" stroke="#FF0000" stroke-width="1.5" fill="none"/>
<path d="M549.68 147.36H555.88M549.68 156.14H555.88" stroke="#FF0000" stroke-width="1.8" fill="none"/>
<path d="M571.49 163.23H577.69M571.49 170.54H577.69" stroke="#FF0000" stroke-width="1.8" fill="none"/>
<path d="M593.3 170.4H599.5M593.3 179.17H599.5" stroke="#FF0000" stroke-width="1.8" fill="none"/>
<path d="M636.92 188.02H643.12M636.92 195.33H643.12" stroke="#FF0000" stroke-width="1.8" fill="none"/>
<path d="M680.54 203.96H686.74M680.54 211.27H686.74" stroke="#FF0000" stroke-width="1.8" fill="none"/>
<path d="M506.06 76.43H512.26M506.06 96.91H512.26" stroke="#FF0000" stroke-width="1.8" fill="none"/>
<path d="M509.16 76.43V81.67M509.16 90.57V96.91" stroke="#FF0000" stroke-width="1.5" fill="none"/>
<path d="M507.51 83.01H513.71M507.51 97.64H513.71" stroke="#FF0000" stroke-width="1.8" fill="none"/>
<path d="M510.61 83.01V85.32M510.61 94.22V97.64" stroke="#FF0000" stroke-width="1.5" fill="none"/>
<path d="M510.42 90.32H516.62M510.42 102.03H516.62" stroke="#FF0000" stroke-width="1.8" fill="none"/>
<path d="M513.52 90.32V91.17M513.52 100.07V102.03" stroke="#FF0000" stroke-width="1.5" fill="none"/>
<path d="M513.33 95.44H519.53M513.33 107.14H519.53" stroke="#FF0000" stroke-width="1.8" fill="none"/>
<path d="M516.43 95.44V96.29M516.43 105.19V107.14" stroke="#FF0000" stroke-width="1.5" fill="none"/>
<path d="M516.24 99.1H522.44M516.24 110.8H522.44" stroke="#FF0000" stroke-width="1.8" fill="none"/>
<path d="M519.34 99.1V99.95M519.34 108.85V110.8" stroke="#FF0000" stroke-width="1.5" fill="none"/>
<path d="M520.6 107.88H526.8M520.6 119.58H526.8" stroke="#FF0000" stroke-width="1.8" fill="none"/>
<path d="M523.7 107.88V108.73M523.7 117.63V119.58" stroke="#FF0000" stroke-width="1.5" fill="none"/>
<path d="M527.87 115.19H534.07M527.87 126.89H534.07" stroke="#FF0000" stroke-width="1.8" fill="none"/>
<path d="M530.97 115.19V116.04M530.97 124.94V126.89" stroke="#FF0000" stroke-width="1.5" fill="none"/>
<path d="M549.68 129.08H555.88M549.68 140.78H555.88" stroke="#FF0000" stroke-width="1.8" fill="none"/>
<path d="M552.78 129.08V129.93M552.78 138.83V140.78" stroke="#FF0000" stroke-width="1.5" fill="none"/>
<path d="M571.49 140.78H577.69M571.49 155.41H577.69" stroke="#FF0000" stroke-width="1.8" fill="none"/>
<path d="M574.59 140.78V143.09M574.59 151.99V155.41" stroke="#FF0000" stroke-width="1.5" fill="none"/>
<path d="M593.3 148.09H599.5M593.3 162.72H599.5" stroke="#FF0000" stroke-width="1.8" fill="none"/>
<path d="M596.4 148.09V150.41M596.4 159.31V162.72" stroke="#FF0000" stroke-width="1.5" fill="none"/>
<path d="M636.92 182.9H643.12M636.92 191.68H643.12" stroke="#FF0000" stroke-width="1.8" fill="none"/>
<path d="M640.02 191.19V191.68" stroke="#FF0000" stroke-width="1.5" fill="none"/>
<path d="M680.54 197.82H686.74M680.54 203.67H686.74" stroke="#FF0000" stroke-width="1.8" fill="none"/>
<path d="M506.06 83.01H512.26M506.06 97.64H512.26" stroke="#FF0000" stroke-width="1.8" fill="none"/>
<path d="M509.16 83.01V86.42M509.16 95.32V97.64" stroke="#FF0000" stroke-width="1.5" fill="none"/>
<path d="M507.51 88.13H513.71M507.51 99.83H513.71" stroke="#FF0000" stroke-width="1.8" fill="none"/>
<path d="M510.61 88.13V90.08M510.61 98.98V99.83" stroke="#FF0000" stroke-width="1.5" fill="none"/>
<path d="M510.42 93.25H516.62M510.42 104.95H516.62" stroke="#FF0000" stroke-width="1.8" fill="none"/>
<path d="M513.52 93.25V95.2M513.52 104.1V104.95" stroke="#FF0000" stroke-width="1.5" fill="none"/>
<path d="M513.33 99.1H519.53M513.33 110.8H519.53" stroke="#FF0000" stroke-width="1.8" fill="none"/>
<path d="M516.43 99.1V101.05M516.43 109.95V110.8" stroke="#FF0000" stroke-width="1.5" fill="none"/>
<path d="M516.24 102.76H522.44M516.24 114.46H522.44" stroke="#FF0000" stroke-width="1.8" fill="none"/>
<path d="M519.34 102.76V104.71M519.34 113.61V114.46" stroke="#FF0000" stroke-width="1.5" fill="none"/>
<path d="M520.6 112.26H526.8M520.6 123.96H526.8" stroke="#FF0000" stroke-width="1.8" fill="none"/>
<path d="M523.7 112.26V114.21M523.7 123.11V123.96" stroke="#FF0000" stroke-width="1.5" fill="none"/>
<path d="M527.87 119.57H534.07M527.87 134.2H534.07" stroke="#FF0000" stroke-width="1.8" fill="none"/>
<path d="M530.97 119.57V122.99M530.97 131.89V134.2" stroke="#FF0000" stroke-width="1.5" fill="none"/>
<path d="M549.68 137.86H555.88M549.68 146.63H555.88" stroke="#FF0000" stroke-width="1.8" fill="none"/>
<path d="M552.78 137.86V138.34" stroke="#FF0000" stroke-width="1.5" fill="none"/>
<path d="M571.49 152.48H577.69M571.49 159.79H577.69" stroke="#FF0000" stroke-width="1.8" fill="none"/>
<path d="M593.3 164.91H599.5M593.3 172.22H599.5" stroke="#FF0000" stroke-width="1.8" fill="none"/>
<path d="M636.92 190.51H643.12M636.92 197.82H643.12" stroke="#FF0000" stroke-width="1.8" fill="none"/>
<path d="M680.54 200.01H686.74M680.54 207.32H686.74" stroke="#FF0000" stroke-width="1.8" fill="none"/>
<path d="M506.06 81.55H512.26M506.06 96.17H512.26" stroke="#FF0000" stroke-width="1.8" fill="none"/>
<path d="M509.16 81.55V83.96M509.16 93.76V96.17" stroke="#FF0000" stroke-width="1.5" fill="none"/>
<path d="M507.51 86.67H513.71M507.51 98.37H513.71" stroke="#FF0000" stroke-width="1.8" fill="none"/>
<path d="M510.61 86.67V87.62M510.61 97.42V98.37" stroke="#FF0000" stroke-width="1.5" fill="none"/>
<path d="M510.42 91.79H516.62M510.42 103.49H516.62" stroke="#FF0000" stroke-width="1.8" fill="none"/>
<path d="M513.52 91.79V92.74M513.52 102.54V103.49" stroke="#FF0000" stroke-width="1.5" fill="none"/>
<path d="M513.33 97.64H519.53M513.33 109.34H519.53" stroke="#FF0000" stroke-width="1.8" fill="none"/>
<path d="M516.43 97.64V98.59M516.43 108.39V109.34" stroke="#FF0000" stroke-width="1.5" fill="none"/>
<path d="M516.24 100.56H522.44M516.24 112.26H522.44" stroke="#FF0000" stroke-width="1.8" fill="none"/>
<path d="M519.34 100.56V101.51M519.34 111.31V112.26" stroke="#FF0000" stroke-width="1.5" fill="none"/>
<path d="M520.6 107.88H526.8M520.6 122.5H526.8" stroke="#FF0000" stroke-width="1.8" fill="none"/>
<path d="M523.7 107.88V110.29M523.7 120.09V122.5" stroke="#FF0000" stroke-width="1.5" fill="none"/>
<path d="M527.87 115.92H534.07M527.87 130.54H534.07" stroke="#FF0000" stroke-width="1.8" fill="none"/>
<path d="M530.97 115.92V118.33M530.97 128.13V130.54" stroke="#FF0000" stroke-width="1.5" fill="none"/>
<path d="M549.68 131.28H555.88M549.68 138.59H555.88" stroke="#FF0000" stroke-width="1.8" fill="none"/>
<path d="M571.49 145.17H577.69M571.49 152.48H577.69" stroke="#FF0000" stroke-width="1.8" fill="none"/>
<path d="M593.3 159.79H599.5M593.3 167.11H599.5" stroke="#FF0000" stroke-width="1.8" fill="none"/>
<path d="M636.92 185.39H643.12M636.92 192.7H643.12" stroke="#FF0000" stroke-width="1.8" fill="none"/>
<path d="M680.54 198.55H686.74M680.54 205.86H686.74" stroke="#FF0000" stroke-width="1.8" fill="none"/>
<path d="M451 17.2H741.8V251.2H451Z" fill="none" stroke="#000" stroke-width="2.1"/>
<text x="443" y="241.27" text-anchor="end" font-size="14">0.0</text>
<text x="443" y="212.02" text-anchor="end" font-size="14">0.4</text>
<text x="443" y="182.77" text-anchor="end" font-size="14">0.8</text>
<text x="443" y="153.52" text-anchor="end" font-size="14">1.2</text>
<text x="443" y="124.27" text-anchor="end" font-size="14">1.6</text>
<text x="443" y="95.02" text-anchor="end" font-size="14">2.0</text>
<text x="443" y="65.77" text-anchor="end" font-size="14">2.4</text>
<text x="443" y="36.52" text-anchor="end" font-size="14">2.8</text>
<text x="451" y="270" text-anchor="middle" font-size="14">-40</text>
<text x="480.08" y="270" text-anchor="middle" font-size="14">-20</text>
<text x="509.16" y="270" text-anchor="middle" font-size="14">0</text>
<text x="538.24" y="270" text-anchor="middle" font-size="14">20</text>
<text x="567.32" y="270" text-anchor="middle" font-size="14">40</text>
<text x="596.4" y="270" text-anchor="middle" font-size="14">60</text>
<text x="625.48" y="270" text-anchor="middle" font-size="14">80</text>
<text x="654.56" y="270" text-anchor="middle" font-size="14">100</text>
<text x="683.64" y="270" text-anchor="middle" font-size="14">120</text>
<text x="712.72" y="270" text-anchor="middle" font-size="14">140</text>
<text x="741.8" y="270" text-anchor="middle" font-size="14">160</text>
<path d="M446.4 236.57H451M446.4 207.32H451M446.4 178.07H451M446.4 148.82H451M446.4 119.57H451M446.4 90.32H451M446.4 61.07H451M446.4 31.82H451M448.4 221.95H451M448.4 192.7H451M448.4 163.45H451M448.4 134.2H451M448.4 104.95H451M448.4 75.7H451M448.4 46.45H451M451 251.2V255.7M480.08 251.2V255.7M509.16 251.2V255.7M538.24 251.2V255.7M567.32 251.2V255.7M596.4 251.2V255.7M625.48 251.2V255.7M654.56 251.2V255.7M683.64 251.2V255.7M712.72 251.2V255.7M741.8 251.2V255.7M465.54 251.2V253.8M494.62 251.2V253.8M523.7 251.2V253.8M552.78 251.2V253.8M581.86 251.2V253.8M610.94 251.2V253.8M640.02 251.2V253.8M669.1 251.2V253.8M698.18 251.2V253.8M727.26 251.2V253.8" stroke="#000" stroke-width="1.5"/>
<text x="598.2" y="290.5" text-anchor="middle" font-size="14" textLength="66.5" lengthAdjust="spacingAndGlyphs">Time (day)</text>
<text transform="translate(399.8,132.3) rotate(-90)" text-anchor="middle" font-size="14.4" textLength="233" lengthAdjust="spacingAndGlyphs">Concentration of pyriminobac-methyl</text>
<text transform="translate(422.8,131) rotate(-90)" text-anchor="middle" font-size="14.4">in soil (mg kg<tspan dy="-6" font-size="13.5">-1</tspan><tspan dy="6">)</tspan></text>
<text x="558.3" y="40.7" font-size="15" textLength="71.3" lengthAdjust="spacingAndGlyphs">Anaerobic,</text>
<text x="634.2" y="40.7" font-size="15" textLength="16.3" lengthAdjust="spacingAndGlyphs">60</text>
<text x="652.5" y="40.7" font-size="15" textLength="13.3" lengthAdjust="spacingAndGlyphs">%</text>
<text x="718.9" y="36" font-size="15.5">(b)</text>
<path d="M671 89.8H700.8" stroke="#000000" stroke-width="2"/>
<rect x="682.7" y="86.6" width="6.4" height="6.4" fill="#fff" stroke="#000000" stroke-width="1.1"/>
<text x="707.7" y="94.7" font-size="14">S1</text>
<path d="M671 107.7H700.8" stroke="#FF0000" stroke-width="2"/>
<circle cx="685.9" cy="107.7" r="3.89" fill="#fff" stroke="#FF0000" stroke-width="1.1"/>
<text x="707.7" y="112.6" font-size="14">S2</text>
<path d="M671 125.5H700.8" stroke="#0000FF" stroke-width="2"/>
<path d="M685.9 120.91L690.5 128.89L681.3 128.89Z" fill="#fff" stroke="#0000FF" stroke-width="1.1"/>
<text x="707.7" y="130.4" font-size="14">S3</text>
<path d="M671 143.5H700.8" stroke="#008000" stroke-width="2"/>
<path d="M685.9 148.09L690.5 140.11L681.3 140.11Z" fill="#fff" stroke="#008000" stroke-width="1.1"/>
<text x="707.7" y="148.4" font-size="14">S4</text>
<path d="M671 161.3H700.8" stroke="#8000FF" stroke-width="2"/>
<path d="M685.9 156.9L690.3 161.3L685.9 165.7L681.5 161.3Z" fill="#fff" stroke="#8000FF" stroke-width="1.1"/>
<text x="707.7" y="166.2" font-size="14">S5</text>
<polyline points="860.64,53.3 864.71,59.32 868.77,65.15 872.83,70.8 876.9,76.29 880.96,81.6 885.02,86.76 889.09,91.76 893.15,96.6 897.21,101.3 901.28,105.85 905.34,110.27 909.4,114.56 913.47,118.71 917.53,122.73 921.59,126.64 925.66,130.42 929.72,134.09 933.78,137.65 937.85,141.1 941.91,144.45 945.97,147.69 950.04,150.84 954.1,153.89 958.16,156.85 962.23,159.72 966.29,162.5 970.35,165.19 974.42,167.81 978.48,170.34 982.54,172.8 986.6,175.18 990.67,177.49 994.73,179.73 998.79,181.9 1002.86,184.01 1006.92,186.05 1010.98,188.03 1015.05,189.95 1019.11,191.81 1023.17,193.62 1027.24,195.37 1031.3,197.06 1035.36,198.71 1039.43,200.3 1043.49,201.85 1047.55,203.35 1051.62,204.8 1055.68,206.21 1059.74,207.58 1063.81,208.91 1067.87,210.19 1071.93,211.44 1076,212.65 1080.06,213.82 1084.12,214.96 1088.19,216.06 1092.25,217.12 1096.31,218.16 1100.38,219.16 1104.44,220.14" fill="none" stroke="#000000" stroke-width="1.85" stroke-linejoin="round"/>
<polyline points="860.64,67.5 864.71,73.5 868.77,79.3 872.83,84.92 876.9,90.35 880.96,95.6 885.02,100.69 889.09,105.6 893.15,110.36 897.21,114.96 901.28,119.41 905.34,123.71 909.4,127.88 913.47,131.9 917.53,135.8 921.59,139.57 925.66,143.22 929.72,146.74 933.78,150.15 937.85,153.45 941.91,156.65 945.97,159.74 950.04,162.72 954.1,165.61 958.16,168.41 962.23,171.11 966.29,173.73 970.35,176.26 974.42,178.71 978.48,181.07 982.54,183.36 986.6,185.58 990.67,187.72 994.73,189.8 998.79,191.8 1002.86,193.74 1006.92,195.62 1010.98,197.43 1015.05,199.19 1019.11,200.89 1023.17,202.53 1027.24,204.12 1031.3,205.66 1035.36,207.15 1039.43,208.59 1043.49,209.98 1047.55,211.32 1051.62,212.63 1055.68,213.89 1059.74,215.11 1063.81,216.28 1067.87,217.42 1071.93,218.53 1076,219.59 1080.06,220.63 1084.12,221.63 1088.19,222.59 1092.25,223.53 1096.31,224.43 1100.38,225.3 1104.44,226.15" fill="none" stroke="#FF0000" stroke-width="1.85" stroke-linejoin="round"/>
<polyline points="860.64,45.87 864.71,51.77 868.77,57.5 872.83,63.06 876.9,68.46 880.96,73.71 885.02,78.81 889.09,83.76 893.15,88.57 897.21,93.24 901.28,97.78 905.34,102.18 909.4,106.46 913.47,110.62 917.53,114.66 921.59,118.58 925.66,122.39 929.72,126.09 933.78,129.68 937.85,133.17 941.91,136.56 945.97,139.85 950.04,143.05 954.1,146.16 958.16,149.17 962.23,152.1 966.29,154.95 970.35,157.71 974.42,160.4 978.48,163.01 982.54,165.54 986.6,168 990.67,170.39 994.73,172.71 998.79,174.96 1002.86,177.15 1006.92,179.28 1010.98,181.34 1015.05,183.35 1019.11,185.3 1023.17,187.19 1027.24,189.03 1031.3,190.82 1035.36,192.55 1039.43,194.23 1043.49,195.87 1047.55,197.46 1051.62,199 1055.68,200.5 1059.74,201.96 1063.81,203.37 1067.87,204.75 1071.93,206.08 1076,207.38 1080.06,208.63 1084.12,209.86 1088.19,211.04 1092.25,212.2 1096.31,213.32 1100.38,214.41 1104.44,215.46" fill="none" stroke="#0000FF" stroke-width="1.85" stroke-linejoin="round"/>
<polyline points="860.64,66.58 864.71,72.24 868.77,77.72 872.83,83.03 876.9,88.18 880.96,93.17 885.02,98.01 889.09,102.71 893.15,107.25 897.21,111.66 901.28,115.94 905.34,120.08 909.4,124.09 913.47,127.99 917.53,131.76 921.59,135.42 925.66,138.97 929.72,142.4 933.78,145.74 937.85,148.97 941.91,152.1 945.97,155.13 950.04,158.07 954.1,160.93 958.16,163.69 962.23,166.37 966.29,168.97 970.35,171.49 974.42,173.93 978.48,176.3 982.54,178.59 986.6,180.81 990.67,182.97 994.73,185.06 998.79,187.09 1002.86,189.05 1006.92,190.95 1010.98,192.8 1015.05,194.59 1019.11,196.32 1023.17,198 1027.24,199.63 1031.3,201.21 1035.36,202.74 1039.43,204.23 1043.49,205.66 1047.55,207.06 1051.62,208.41 1055.68,209.72 1059.74,210.99 1063.81,212.22 1067.87,213.42 1071.93,214.57 1076,215.7 1080.06,216.78 1084.12,217.84 1088.19,218.86 1092.25,219.85 1096.31,220.81 1100.38,221.74 1104.44,222.64" fill="none" stroke="#008000" stroke-width="1.85" stroke-linejoin="round"/>
<polyline points="860.64,51.63 864.71,57.65 868.77,63.48 872.83,69.14 876.9,74.63 880.96,79.95 885.02,85.11 889.09,90.12 893.15,94.97 897.21,99.68 901.28,104.25 905.34,108.68 909.4,112.97 913.47,117.14 917.53,121.18 921.59,125.1 925.66,128.9 929.72,132.59 933.78,136.16 937.85,139.63 941.91,142.99 945.97,146.25 950.04,149.42 954.1,152.48 958.16,155.46 962.23,158.35 966.29,161.14 970.35,163.86 974.42,166.49 978.48,169.04 982.54,171.52 986.6,173.92 990.67,176.25 994.73,178.51 998.79,180.7 1002.86,182.83 1006.92,184.89 1010.98,186.89 1015.05,188.82 1019.11,190.7 1023.17,192.53 1027.24,194.3 1031.3,196.01 1035.36,197.67 1039.43,199.29 1043.49,200.85 1047.55,202.37 1051.62,203.84 1055.68,205.27 1059.74,206.65 1063.81,208 1067.87,209.3 1071.93,210.56 1076,211.79 1080.06,212.97 1084.12,214.13 1088.19,215.24 1092.25,216.33 1096.31,217.38 1100.38,218.4 1104.44,219.39" fill="none" stroke="#8000FF" stroke-width="1.85" stroke-linejoin="round"/>
<path d="M891.02 80.03H897.22M891.02 88.37H897.22" stroke="#000000" stroke-width="1.8" fill="none"/>
<path d="M894.12 80.03V80.9M894.12 87.5V88.37" stroke="#000000" stroke-width="1.5" fill="none"/>
<rect x="891.42" y="81.5" width="5.4" height="5.4" fill="#fff" stroke="#000000" stroke-width="1.1"/>
<path d="M892.48 82.53H898.68M892.48 90.88H898.68" stroke="#000000" stroke-width="1.8" fill="none"/>
<path d="M895.58 82.53V83.4M895.58 90V90.88" stroke="#000000" stroke-width="1.5" fill="none"/>
<rect x="892.88" y="84" width="5.4" height="5.4" fill="#fff" stroke="#000000" stroke-width="1.1"/>
<path d="M895.39 90.05H901.59M895.39 98.4H901.59" stroke="#000000" stroke-width="1.8" fill="none"/>
<path d="M898.49 90.05V90.92M898.49 97.52V98.4" stroke="#000000" stroke-width="1.5" fill="none"/>
<rect x="895.79" y="91.52" width="5.4" height="5.4" fill="#fff" stroke="#000000" stroke-width="1.1"/>
<path d="M898.3 96.72H904.5M898.3 105.07H904.5" stroke="#000000" stroke-width="1.8" fill="none"/>
<path d="M901.4 96.72V97.6M901.4 104.2V105.07" stroke="#000000" stroke-width="1.5" fill="none"/>
<rect x="898.7" y="98.2" width="5.4" height="5.4" fill="#fff" stroke="#000000" stroke-width="1.1"/>
<path d="M901.21 103.4H907.41M901.21 111.75H907.41" stroke="#000000" stroke-width="1.8" fill="none"/>
<path d="M904.31 103.4V104.28M904.31 110.88V111.75" stroke="#000000" stroke-width="1.5" fill="none"/>
<rect x="901.61" y="104.88" width="5.4" height="5.4" fill="#fff" stroke="#000000" stroke-width="1.1"/>
<path d="M905.57 110.92H911.77M905.57 119.27H911.77" stroke="#000000" stroke-width="1.8" fill="none"/>
<path d="M908.67 110.92V111.8M908.67 118.39V119.27" stroke="#000000" stroke-width="1.5" fill="none"/>
<rect x="905.97" y="112.39" width="5.4" height="5.4" fill="#fff" stroke="#000000" stroke-width="1.1"/>
<path d="M912.85 120.1H919.05M912.85 128.45H919.05" stroke="#000000" stroke-width="1.8" fill="none"/>
<path d="M915.95 120.1V120.98M915.95 127.58V128.45" stroke="#000000" stroke-width="1.5" fill="none"/>
<rect x="913.25" y="121.58" width="5.4" height="5.4" fill="#fff" stroke="#000000" stroke-width="1.1"/>
<path d="M934.68 139.31H940.88M934.68 145.99H940.88" stroke="#000000" stroke-width="1.8" fill="none"/>
<path d="M937.78 139.31V139.35M937.78 145.95V145.99" stroke="#000000" stroke-width="1.5" fill="none"/>
<rect x="935.08" y="139.95" width="5.4" height="5.4" fill="#fff" stroke="#000000" stroke-width="1.1"/>
<path d="M956.52 154.34H962.72M956.52 161.02H962.72" stroke="#000000" stroke-width="1.8" fill="none"/>
<path d="M959.62 154.34V154.38M959.62 160.98V161.02" stroke="#000000" stroke-width="1.5" fill="none"/>
<rect x="956.92" y="154.98" width="5.4" height="5.4" fill="#fff" stroke="#000000" stroke-width="1.1"/>
<path d="M978.35 164.36H984.55M978.35 171.04H984.55" stroke="#000000" stroke-width="1.8" fill="none"/>
<path d="M981.45 164.36V164.4M981.45 171V171.04" stroke="#000000" stroke-width="1.5" fill="none"/>
<rect x="978.75" y="165" width="5.4" height="5.4" fill="#fff" stroke="#000000" stroke-width="1.1"/>
<path d="M1022.01 191.08H1028.21M1022.01 196.09H1028.21" stroke="#000000" stroke-width="1.8" fill="none"/>
<rect x="1022.41" y="190.88" width="5.4" height="5.4" fill="#fff" stroke="#000000" stroke-width="1.1"/>
<path d="M1065.68 198.59H1071.88M1065.68 206.94H1071.88" stroke="#000000" stroke-width="1.8" fill="none"/>
<path d="M1068.78 198.59V199.47M1068.78 206.07V206.94" stroke="#000000" stroke-width="1.5" fill="none"/>
<rect x="1066.08" y="200.07" width="5.4" height="5.4" fill="#fff" stroke="#000000" stroke-width="1.1"/>
<path d="M891.02 100.06H897.22M891.02 110.09H897.22" stroke="#FF0000" stroke-width="1.8" fill="none"/>
<path d="M894.12 100.06V100.67M894.12 109.47V110.09" stroke="#FF0000" stroke-width="1.5" fill="none"/>
<circle cx="894.12" cy="105.07" r="3.8" fill="#fff" stroke="#FF0000" stroke-width="1.1"/>
<path d="M892.48 105.91H898.68M892.48 115.93H898.68" stroke="#FF0000" stroke-width="1.8" fill="none"/>
<path d="M895.58 105.91V106.52M895.58 115.32V115.93" stroke="#FF0000" stroke-width="1.5" fill="none"/>
<circle cx="895.58" cy="110.92" r="3.8" fill="#fff" stroke="#FF0000" stroke-width="1.1"/>
<path d="M895.39 113.26H901.59M895.39 126.62H901.59" stroke="#FF0000" stroke-width="1.8" fill="none"/>
<path d="M898.49 113.26V115.54M898.49 124.34V126.62" stroke="#FF0000" stroke-width="1.5" fill="none"/>
<circle cx="898.49" cy="119.94" r="3.8" fill="#fff" stroke="#FF0000" stroke-width="1.1"/>
<path d="M898.3 121.27H904.5M898.3 137.97H904.5" stroke="#FF0000" stroke-width="1.8" fill="none"/>
<path d="M901.4 121.27V125.22M901.4 134.02V137.97" stroke="#FF0000" stroke-width="1.5" fill="none"/>
<circle cx="901.4" cy="129.62" r="3.8" fill="#fff" stroke="#FF0000" stroke-width="1.1"/>
<path d="M901.21 124.28H907.41M901.21 140.98H907.41" stroke="#FF0000" stroke-width="1.8" fill="none"/>
<path d="M904.31 124.28V128.23M904.31 137.03V140.98" stroke="#FF0000" stroke-width="1.5" fill="none"/>
<circle cx="904.31" cy="132.63" r="3.8" fill="#fff" stroke="#FF0000" stroke-width="1.1"/>
<path d="M905.57 128.45H911.77M905.57 148.5H911.77" stroke="#FF0000" stroke-width="1.8" fill="none"/>
<path d="M908.67 128.45V134.07M908.67 142.87V148.5" stroke="#FF0000" stroke-width="1.5" fill="none"/>
<circle cx="908.67" cy="138.47" r="3.8" fill="#fff" stroke="#FF0000" stroke-width="1.1"/>
<path d="M912.85 134.8H919.05M912.85 158.18H919.05" stroke="#FF0000" stroke-width="1.8" fill="none"/>
<path d="M915.95 134.8V142.09M915.95 150.89V158.18" stroke="#FF0000" stroke-width="1.5" fill="none"/>
<circle cx="915.95" cy="146.49" r="3.8" fill="#fff" stroke="#FF0000" stroke-width="1.1"/>
<path d="M934.68 153H940.88M934.68 161.35H940.88" stroke="#FF0000" stroke-width="1.8" fill="none"/>
<circle cx="937.78" cy="157.18" r="3.8" fill="#fff" stroke="#FF0000" stroke-width="1.1"/>
<path d="M956.52 159.1H962.72M956.52 165.78H962.72" stroke="#FF0000" stroke-width="1.8" fill="none"/>
<circle cx="959.62" cy="162.44" r="3.8" fill="#fff" stroke="#FF0000" stroke-width="1.1"/>
<path d="M978.35 176.8H984.55M978.35 183.48H984.55" stroke="#FF0000" stroke-width="1.8" fill="none"/>
<circle cx="981.45" cy="180.14" r="3.8" fill="#fff" stroke="#FF0000" stroke-width="1.1"/>
<path d="M1022.01 200.77H1028.21M1022.01 207.45H1028.21" stroke="#FF0000" stroke-width="1.8" fill="none"/>
<circle cx="1025.12" cy="204.11" r="3.8" fill="#fff" stroke="#FF0000" stroke-width="1.1"/>
<path d="M1065.68 206.94H1071.88M1065.68 215.29H1071.88" stroke="#FF0000" stroke-width="1.8" fill="none"/>
<circle cx="1068.78" cy="211.12" r="3.8" fill="#fff" stroke="#FF0000" stroke-width="1.1"/>
<path d="M891.02 69.17H897.22M891.02 85.87H897.22" stroke="#0000FF" stroke-width="1.8" fill="none"/>
<path d="M894.12 69.17V72.52M894.12 81.42V85.87" stroke="#0000FF" stroke-width="1.5" fill="none"/>
<path d="M894.12 73.03L898.62 80.83L889.62 80.83Z" fill="#fff" stroke="#0000FF" stroke-width="1.1"/>
<path d="M892.48 69.17H898.68M892.48 92.55H898.68" stroke="#0000FF" stroke-width="1.8" fill="none"/>
<path d="M895.58 69.17V75.86M895.58 84.76V92.55" stroke="#0000FF" stroke-width="1.5" fill="none"/>
<path d="M895.58 76.37L900.08 84.17L891.08 84.17Z" fill="#fff" stroke="#0000FF" stroke-width="1.1"/>
<path d="M895.39 85.87H901.59M895.39 95.89H901.59" stroke="#0000FF" stroke-width="1.8" fill="none"/>
<path d="M898.49 85.87V85.88M898.49 94.78V95.89" stroke="#0000FF" stroke-width="1.5" fill="none"/>
<path d="M898.49 86.39L902.99 94.19L893.99 94.19Z" fill="#fff" stroke="#0000FF" stroke-width="1.1"/>
<path d="M898.3 93.38H904.5M898.3 103.4H904.5" stroke="#0000FF" stroke-width="1.8" fill="none"/>
<path d="M901.4 93.38V93.39M901.4 102.29V103.4" stroke="#0000FF" stroke-width="1.5" fill="none"/>
<path d="M901.4 93.91L905.9 101.71L896.9 101.71Z" fill="#fff" stroke="#0000FF" stroke-width="1.1"/>
<path d="M901.21 99.23H907.41M901.21 109.25H907.41" stroke="#0000FF" stroke-width="1.8" fill="none"/>
<path d="M904.31 99.23V99.24M904.31 108.14V109.25" stroke="#0000FF" stroke-width="1.5" fill="none"/>
<path d="M904.31 99.75L908.81 107.55L899.81 107.55Z" fill="#fff" stroke="#0000FF" stroke-width="1.1"/>
<path d="M905.57 104.24H911.77M905.57 114.26H911.77" stroke="#0000FF" stroke-width="1.8" fill="none"/>
<path d="M908.67 104.24V104.25M908.67 113.15V114.26" stroke="#0000FF" stroke-width="1.5" fill="none"/>
<path d="M908.67 104.76L913.17 112.56L904.17 112.56Z" fill="#fff" stroke="#0000FF" stroke-width="1.1"/>
<path d="M912.85 110.08H919.05M912.85 123.44H919.05" stroke="#0000FF" stroke-width="1.8" fill="none"/>
<path d="M915.95 110.08V111.76M915.95 120.66V123.44" stroke="#0000FF" stroke-width="1.5" fill="none"/>
<path d="M915.95 112.28L920.45 120.08L911.45 120.08Z" fill="#fff" stroke="#0000FF" stroke-width="1.1"/>
<path d="M934.68 131.71H940.88M934.68 140.06H940.88" stroke="#0000FF" stroke-width="1.8" fill="none"/>
<path d="M937.78 139.79V140.06" stroke="#0000FF" stroke-width="1.5" fill="none"/>
<path d="M937.78 131.4L942.28 139.2L933.28 139.2Z" fill="#fff" stroke="#0000FF" stroke-width="1.1"/>
<path d="M956.52 146.74H962.72M956.52 153.42H962.72" stroke="#0000FF" stroke-width="1.8" fill="none"/>
<path d="M959.62 145.6L964.12 153.4L955.12 153.4Z" fill="#fff" stroke="#0000FF" stroke-width="1.1"/>
<path d="M978.35 158.18H984.55M978.35 164.86H984.55" stroke="#0000FF" stroke-width="1.8" fill="none"/>
<path d="M981.45 157.04L985.95 164.84L976.95 164.84Z" fill="#fff" stroke="#0000FF" stroke-width="1.1"/>
<path d="M1022.01 183.06H1028.21M1022.01 189.74H1028.21" stroke="#0000FF" stroke-width="1.8" fill="none"/>
<path d="M1025.12 181.92L1029.62 189.72L1020.62 189.72Z" fill="#fff" stroke="#0000FF" stroke-width="1.1"/>
<path d="M1065.68 196.09H1071.88M1065.68 206.11H1071.88" stroke="#0000FF" stroke-width="1.8" fill="none"/>
<path d="M1068.78 196.09V196.1M1068.78 205V206.11" stroke="#0000FF" stroke-width="1.5" fill="none"/>
<path d="M1068.78 196.62L1073.28 204.41L1064.28 204.41Z" fill="#fff" stroke="#0000FF" stroke-width="1.1"/>
<path d="M891.02 81.69H897.22M891.02 95.06H897.22" stroke="#008000" stroke-width="1.8" fill="none"/>
<path d="M894.12 81.69V84.47M894.12 93.37V95.06" stroke="#008000" stroke-width="1.5" fill="none"/>
<path d="M894.12 92.86L898.62 85.06L889.62 85.06Z" fill="#fff" stroke="#008000" stroke-width="1.1"/>
<path d="M892.48 75.85H898.68M892.48 109.25H898.68" stroke="#008000" stroke-width="1.8" fill="none"/>
<path d="M895.58 75.85V88.65M895.58 97.55V109.25" stroke="#008000" stroke-width="1.5" fill="none"/>
<path d="M895.58 97.03L900.08 89.23L891.08 89.23Z" fill="#fff" stroke="#008000" stroke-width="1.1"/>
<path d="M895.39 102.57H901.59M895.39 115.93H901.59" stroke="#008000" stroke-width="1.8" fill="none"/>
<path d="M898.49 102.57V105.35M898.49 114.25V115.93" stroke="#008000" stroke-width="1.5" fill="none"/>
<path d="M898.49 113.73L902.99 105.93L893.99 105.93Z" fill="#fff" stroke="#008000" stroke-width="1.1"/>
<path d="M898.3 110.92H904.5M898.3 124.28H904.5" stroke="#008000" stroke-width="1.8" fill="none"/>
<path d="M901.4 110.92V113.7M901.4 122.6V124.28" stroke="#008000" stroke-width="1.5" fill="none"/>
<path d="M901.4 122.08L905.9 114.28L896.9 114.28Z" fill="#fff" stroke="#008000" stroke-width="1.1"/>
<path d="M901.21 117.6H907.41M901.21 134.3H907.41" stroke="#008000" stroke-width="1.8" fill="none"/>
<path d="M904.31 117.6V122.05M904.31 130.95V134.3" stroke="#008000" stroke-width="1.5" fill="none"/>
<path d="M904.31 130.44L908.81 122.64L899.81 122.64Z" fill="#fff" stroke="#008000" stroke-width="1.1"/>
<path d="M905.57 124.45H911.77M905.57 141.15H911.77" stroke="#008000" stroke-width="1.8" fill="none"/>
<path d="M908.67 124.45V128.9M908.67 137.8V141.15" stroke="#008000" stroke-width="1.5" fill="none"/>
<path d="M908.67 137.28L913.17 129.48L904.17 129.48Z" fill="#fff" stroke="#008000" stroke-width="1.1"/>
<path d="M912.85 132.63H919.05M912.85 152.67H919.05" stroke="#008000" stroke-width="1.8" fill="none"/>
<path d="M915.95 132.63V138.75M915.95 147.65V152.67" stroke="#008000" stroke-width="1.5" fill="none"/>
<path d="M915.95 147.13L920.45 139.33L911.45 139.33Z" fill="#fff" stroke="#008000" stroke-width="1.1"/>
<path d="M934.68 151H940.88M934.68 164.36H940.88" stroke="#008000" stroke-width="1.8" fill="none"/>
<path d="M937.78 151V153.78M937.78 162.68V164.36" stroke="#008000" stroke-width="1.5" fill="none"/>
<path d="M937.78 162.16L942.28 154.36L933.28 154.36Z" fill="#fff" stroke="#008000" stroke-width="1.1"/>
<path d="M956.52 166.28H962.72M956.52 174.63H962.72" stroke="#008000" stroke-width="1.8" fill="none"/>
<path d="M959.62 166.28V166.56" stroke="#008000" stroke-width="1.5" fill="none"/>
<path d="M959.62 174.94L964.12 167.14L955.12 167.14Z" fill="#fff" stroke="#008000" stroke-width="1.1"/>
<path d="M978.35 174.21H984.55M978.35 180.89H984.55" stroke="#008000" stroke-width="1.8" fill="none"/>
<path d="M981.45 182.04L985.95 174.24L976.95 174.24Z" fill="#fff" stroke="#008000" stroke-width="1.1"/>
<path d="M1022.01 190.25H1028.21M1022.01 196.93H1028.21" stroke="#008000" stroke-width="1.8" fill="none"/>
<path d="M1025.12 198.07L1029.62 190.27L1020.62 190.27Z" fill="#fff" stroke="#008000" stroke-width="1.1"/>
<path d="M1065.68 193.58H1071.88M1065.68 213.62H1071.88" stroke="#008000" stroke-width="1.8" fill="none"/>
<path d="M1068.78 193.58V199.7M1068.78 208.6V213.62" stroke="#008000" stroke-width="1.5" fill="none"/>
<path d="M1068.78 208.09L1073.28 200.29L1064.28 200.29Z" fill="#fff" stroke="#008000" stroke-width="1.1"/>
<path d="M891.02 77.52H897.22M891.02 85.87H897.22" stroke="#8000FF" stroke-width="1.8" fill="none"/>
<path d="M894.12 77.39L898.42 81.69L894.12 85.99L889.82 81.69Z" fill="#fff" stroke="#8000FF" stroke-width="1.1"/>
<path d="M892.48 79.19H898.68M892.48 87.54H898.68" stroke="#8000FF" stroke-width="1.8" fill="none"/>
<path d="M895.58 79.07L899.88 83.37L895.58 87.67L891.28 83.37Z" fill="#fff" stroke="#8000FF" stroke-width="1.1"/>
<path d="M895.39 91.71H901.59M895.39 100.06H901.59" stroke="#8000FF" stroke-width="1.8" fill="none"/>
<path d="M898.49 91.59L902.79 95.89L898.49 100.19L894.19 95.89Z" fill="#fff" stroke="#8000FF" stroke-width="1.1"/>
<path d="M898.3 98.39H904.5M898.3 106.75H904.5" stroke="#8000FF" stroke-width="1.8" fill="none"/>
<path d="M901.4 98.27L905.7 102.57L901.4 106.87L897.1 102.57Z" fill="#fff" stroke="#8000FF" stroke-width="1.1"/>
<path d="M901.21 105.07H907.41M901.21 113.42H907.41" stroke="#8000FF" stroke-width="1.8" fill="none"/>
<path d="M904.31 104.95L908.61 109.25L904.31 113.55L900.01 109.25Z" fill="#fff" stroke="#8000FF" stroke-width="1.1"/>
<path d="M905.57 113.42H911.77M905.57 121.77H911.77" stroke="#8000FF" stroke-width="1.8" fill="none"/>
<path d="M908.67 113.3L912.97 117.6L908.67 121.9L904.38 117.6Z" fill="#fff" stroke="#8000FF" stroke-width="1.1"/>
<path d="M912.85 122.11H919.05M912.85 130.46H919.05" stroke="#8000FF" stroke-width="1.8" fill="none"/>
<path d="M915.95 121.98L920.25 126.28L915.95 130.58L911.65 126.28Z" fill="#fff" stroke="#8000FF" stroke-width="1.1"/>
<path d="M934.68 141.48H940.88M934.68 148.16H940.88" stroke="#8000FF" stroke-width="1.8" fill="none"/>
<path d="M937.78 140.52L942.08 144.82L937.78 149.12L933.49 144.82Z" fill="#fff" stroke="#8000FF" stroke-width="1.1"/>
<path d="M956.52 153.5H962.72M956.52 160.19H962.72" stroke="#8000FF" stroke-width="1.8" fill="none"/>
<path d="M959.62 152.54L963.92 156.84L959.62 161.15L955.32 156.84Z" fill="#fff" stroke="#8000FF" stroke-width="1.1"/>
<path d="M978.35 164.36H984.55M978.35 171.04H984.55" stroke="#8000FF" stroke-width="1.8" fill="none"/>
<path d="M981.45 163.4L985.75 167.7L981.45 172L977.15 167.7Z" fill="#fff" stroke="#8000FF" stroke-width="1.1"/>
<path d="M1022.01 190.25H1028.21M1022.01 196.93H1028.21" stroke="#8000FF" stroke-width="1.8" fill="none"/>
<path d="M1025.12 189.28L1029.41 193.58L1025.12 197.88L1020.82 193.58Z" fill="#fff" stroke="#8000FF" stroke-width="1.1"/>
<path d="M1065.68 197.34H1071.88M1065.68 205.69H1071.88" stroke="#8000FF" stroke-width="1.8" fill="none"/>
<path d="M1068.78 197.22L1073.08 201.52L1068.78 205.82L1064.48 201.52Z" fill="#fff" stroke="#8000FF" stroke-width="1.1"/>
<path d="M835.9 17.4H1127V251.2H835.9Z" fill="none" stroke="#000" stroke-width="2.1"/>
<text x="827.9" y="255.9" text-anchor="end" font-size="14">0.0</text>
<text x="827.9" y="222.5" text-anchor="end" font-size="14">0.4</text>
<text x="827.9" y="189.1" text-anchor="end" font-size="14">0.8</text>
<text x="827.9" y="155.7" text-anchor="end" font-size="14">1.2</text>
<text x="827.9" y="122.3" text-anchor="end" font-size="14">1.6</text>
<text x="827.9" y="88.9" text-anchor="end" font-size="14">2.0</text>
<text x="827.9" y="55.5" text-anchor="end" font-size="14">2.4</text>
<text x="827.9" y="22.1" text-anchor="end" font-size="14">2.8</text>
<text x="835.9" y="270.2" text-anchor="middle" font-size="14">-40</text>
<text x="865.01" y="270.2" text-anchor="middle" font-size="14">-20</text>
<text x="894.12" y="270.2" text-anchor="middle" font-size="14">0</text>
<text x="923.23" y="270.2" text-anchor="middle" font-size="14">20</text>
<text x="952.34" y="270.2" text-anchor="middle" font-size="14">40</text>
<text x="981.45" y="270.2" text-anchor="middle" font-size="14">60</text>
<text x="1010.56" y="270.2" text-anchor="middle" font-size="14">80</text>
<text x="1039.67" y="270.2" text-anchor="middle" font-size="14">100</text>
<text x="1068.78" y="270.2" text-anchor="middle" font-size="14">120</text>
<text x="1097.89" y="270.2" text-anchor="middle" font-size="14">140</text>
<text x="1127" y="270.2" text-anchor="middle" font-size="14">160</text>
<path d="M831.3 251.2H835.9M831.3 217.8H835.9M831.3 184.4H835.9M831.3 151H835.9M831.3 117.6H835.9M831.3 84.2H835.9M831.3 50.8H835.9M831.3 17.4H835.9M833.3 234.5H835.9M833.3 201.1H835.9M833.3 167.7H835.9M833.3 134.3H835.9M833.3 100.9H835.9M833.3 67.5H835.9M833.3 34.1H835.9M835.9 251.2V255.7M865.01 251.2V255.7M894.12 251.2V255.7M923.23 251.2V255.7M952.34 251.2V255.7M981.45 251.2V255.7M1010.56 251.2V255.7M1039.67 251.2V255.7M1068.78 251.2V255.7M1097.89 251.2V255.7M1127 251.2V255.7M850.45 251.2V253.8M879.56 251.2V253.8M908.67 251.2V253.8M937.78 251.2V253.8M966.89 251.2V253.8M996 251.2V253.8M1025.12 251.2V253.8M1054.22 251.2V253.8M1083.34 251.2V253.8M1112.44 251.2V253.8" stroke="#000" stroke-width="1.5"/>
<text x="983.25" y="290.5" text-anchor="middle" font-size="14" textLength="66.5" lengthAdjust="spacingAndGlyphs">Time (day)</text>
<text transform="translate(783.6,130.2) rotate(-90)" text-anchor="middle" font-size="14.4" textLength="233" lengthAdjust="spacingAndGlyphs">Concentration of pyriminobac-methyl</text>
<text transform="translate(808.5,128.5) rotate(-90)" text-anchor="middle" font-size="14.4">in soil (mg kg<tspan dy="-6" font-size="13.5">-1</tspan><tspan dy="6">)</tspan></text>
<text x="925.7" y="39.7" font-size="15" textLength="78.6" lengthAdjust="spacingAndGlyphs">Sterilization,</text>
<text x="1006.2" y="39.7" font-size="15" textLength="16.3" lengthAdjust="spacingAndGlyphs">60</text>
<text x="1023.5" y="39.7" font-size="15" textLength="12.4" lengthAdjust="spacingAndGlyphs">%</text>
<text x="1104.4" y="36" font-size="15.5">(c)</text>
<path d="M1056 89.8H1085.8" stroke="#000000" stroke-width="2"/>
<rect x="1067.7" y="86.6" width="6.4" height="6.4" fill="#fff" stroke="#000000" stroke-width="1.1"/>
<text x="1092.7" y="94.7" font-size="14">S1</text>
<path d="M1056 107.7H1085.8" stroke="#FF0000" stroke-width="2"/>
<circle cx="1070.9" cy="107.7" r="3.89" fill="#fff" stroke="#FF0000" stroke-width="1.1"/>
<text x="1092.7" y="112.6" font-size="14">S2</text>
<path d="M1056 125.5H1085.8" stroke="#0000FF" stroke-width="2"/>
<path d="M1070.9 120.91L1075.5 128.89L1066.3 128.89Z" fill="#fff" stroke="#0000FF" stroke-width="1.1"/>
<text x="1092.7" y="130.4" font-size="14">S3</text>
<path d="M1056 143.5H1085.8" stroke="#008000" stroke-width="2"/>
<path d="M1070.9 148.09L1075.5 140.11L1066.3 140.11Z" fill="#fff" stroke="#008000" stroke-width="1.1"/>
<text x="1092.7" y="148.4" font-size="14">S4</text>
<path d="M1056 161.3H1085.8" stroke="#8000FF" stroke-width="2"/>
<path d="M1070.9 156.9L1075.3 161.3L1070.9 165.7L1066.5 161.3Z" fill="#fff" stroke="#8000FF" stroke-width="1.1"/>
<text x="1092.7" y="166.2" font-size="14">S5</text>
<polyline points="299.28,356.25 303.35,364.3 307.42,372.04 311.48,379.49 315.55,386.66 319.62,393.56 323.69,400.2 327.76,406.59 331.83,412.73 335.9,418.64 339.97,424.33 344.03,429.81 348.1,435.07 352.17,440.14 356.24,445.02 360.31,449.71 364.38,454.22 368.45,458.57 372.52,462.75 376.59,466.77 380.65,470.64 384.72,474.36 388.79,477.94 392.86,481.39 396.93,484.71 401,487.9 405.07,490.97 409.14,493.92 413.21,496.77 417.27,499.5 421.34,502.13 425.41,504.67 429.48,507.1 433.55,509.45 437.62,511.7 441.69,513.87 445.76,515.96 449.83,517.97 453.89,519.9 457.96,521.76 462.03,523.55 466.1,525.28 470.17,526.93 474.24,528.53 478.31,530.06 482.38,531.54 486.44,532.96 490.51,534.32 494.58,535.64 498.65,536.9 502.72,538.12 506.79,539.29 510.86,540.42 514.93,541.51 519,542.55 523.06,543.55 527.13,544.52 531.2,545.45 535.27,546.34 539.34,547.2 543.41,548.03" fill="none" stroke="#000000" stroke-width="1.85" stroke-linejoin="round"/>
<polyline points="299.28,370.48 303.35,377.27 307.42,383.84 311.48,390.18 315.55,396.3 319.62,402.22 323.69,407.93 327.76,413.44 331.83,418.77 335.9,423.92 339.97,428.89 344.03,433.68 348.1,438.32 352.17,442.79 356.24,447.12 360.31,451.29 364.38,455.32 368.45,459.22 372.52,462.98 376.59,466.61 380.65,470.12 384.72,473.51 388.79,476.78 392.86,479.94 396.93,482.99 401,485.94 405.07,488.78 409.14,491.53 413.21,494.19 417.27,496.75 421.34,499.23 425.41,501.62 429.48,503.93 433.55,506.16 437.62,508.31 441.69,510.39 445.76,512.4 449.83,514.34 453.89,516.22 457.96,518.03 462.03,519.77 466.1,521.46 470.17,523.09 474.24,524.67 478.31,526.19 482.38,527.66 486.44,529.08 490.51,530.45 494.58,531.77 498.65,533.05 502.72,534.28 506.79,535.47 510.86,536.62 514.93,537.73 519,538.81 523.06,539.84 527.13,540.85 531.2,541.81 535.27,542.75 539.34,543.65 543.41,544.52" fill="none" stroke="#FF0000" stroke-width="1.85" stroke-linejoin="round"/>
<polyline points="299.28,356.61 303.35,362.67 307.42,368.55 311.48,374.27 315.55,379.83 319.62,385.23 323.69,390.47 327.76,395.56 331.83,400.51 335.9,405.32 339.97,409.99 344.03,414.52 348.1,418.93 352.17,423.21 356.24,427.37 360.31,431.42 364.38,435.34 368.45,439.16 372.52,442.86 376.59,446.46 380.65,449.96 384.72,453.35 388.79,456.66 392.86,459.86 396.93,462.98 401,466 405.07,468.94 409.14,471.8 413.21,474.57 417.27,477.27 421.34,479.89 425.41,482.43 429.48,484.9 433.55,487.3 437.62,489.63 441.69,491.9 445.76,494.1 449.83,496.24 453.89,498.32 457.96,500.34 462.03,502.3 466.1,504.2 470.17,506.05 474.24,507.85 478.31,509.6 482.38,511.29 486.44,512.94 490.51,514.54 494.58,516.1 498.65,517.61 502.72,519.08 506.79,520.5 510.86,521.89 514.93,523.24 519,524.54 523.06,525.81 527.13,527.05 531.2,528.25 535.27,529.41 539.34,530.54 543.41,531.64" fill="none" stroke="#0000FF" stroke-width="1.85" stroke-linejoin="round"/>
<polyline points="299.28,354.99 303.35,361.53 307.42,367.86 311.48,374.01 315.55,379.96 319.62,385.74 323.69,391.34 327.76,396.77 331.83,402.03 335.9,407.13 339.97,412.07 344.03,416.87 348.1,421.52 352.17,426.02 356.24,430.39 360.31,434.63 364.38,438.73 368.45,442.71 372.52,446.57 376.59,450.31 380.65,453.94 384.72,457.46 388.79,460.86 392.86,464.17 396.93,467.37 401,470.48 405.07,473.49 409.14,476.41 413.21,479.24 417.27,481.98 421.34,484.64 425.41,487.22 429.48,489.72 433.55,492.15 437.62,494.5 441.69,496.77 445.76,498.98 449.83,501.12 453.89,503.2 457.96,505.21 462.03,507.16 466.1,509.05 470.17,510.89 474.24,512.66 478.31,514.39 482.38,516.06 486.44,517.68 490.51,519.25 494.58,520.77 498.65,522.24 502.72,523.67 506.79,525.06 510.86,526.41 514.93,527.71 519,528.97 523.06,530.2 527.13,531.39 531.2,532.54 535.27,533.65 539.34,534.74 543.41,535.79" fill="none" stroke="#008000" stroke-width="1.85" stroke-linejoin="round"/>
<polyline points="299.28,368.76 303.35,374.2 307.42,379.49 311.48,384.64 315.55,389.64 319.62,394.51 323.69,399.25 327.76,403.86 331.83,408.34 335.9,412.71 339.97,416.95 344.03,421.08 348.1,425.09 352.17,429 356.24,432.8 360.31,436.5 364.38,440.1 368.45,443.6 372.52,447.01 376.59,450.32 380.65,453.54 384.72,456.68 388.79,459.73 392.86,462.7 396.93,465.59 401,468.4 405.07,471.13 409.14,473.79 413.21,476.37 417.27,478.89 421.34,481.34 425.41,483.72 429.48,486.04 433.55,488.29 437.62,490.48 441.69,492.62 445.76,494.69 449.83,496.71 453.89,498.68 457.96,500.59 462.03,502.45 466.1,504.26 470.17,506.01 474.24,507.73 478.31,509.39 482.38,511.01 486.44,512.59 490.51,514.12 494.58,515.61 498.65,517.07 502.72,518.48 506.79,519.85 510.86,521.19 514.93,522.49 519,523.75 523.06,524.98 527.13,526.18 531.2,527.35 535.27,528.48 539.34,529.58 543.41,530.65" fill="none" stroke="#8000FF" stroke-width="1.85" stroke-linejoin="round"/>
<path d="M329.7 381.82H335.9M329.7 396.23H335.9" stroke="#000000" stroke-width="1.8" fill="none"/>
<path d="M332.8 381.82V385.72M332.8 392.32V396.23" stroke="#000000" stroke-width="1.5" fill="none"/>
<rect x="330.1" y="386.32" width="5.4" height="5.4" fill="#fff" stroke="#000000" stroke-width="1.1"/>
<path d="M331.16 389.02H337.36M331.16 407.03H337.36" stroke="#000000" stroke-width="1.8" fill="none"/>
<path d="M334.26 389.02V394.73M334.26 401.33V407.03" stroke="#000000" stroke-width="1.5" fill="none"/>
<rect x="331.56" y="395.33" width="5.4" height="5.4" fill="#fff" stroke="#000000" stroke-width="1.1"/>
<path d="M334.07 408.83H340.27M334.07 423.24H340.27" stroke="#000000" stroke-width="1.8" fill="none"/>
<path d="M337.17 408.83V412.73M337.17 419.33V423.24" stroke="#000000" stroke-width="1.5" fill="none"/>
<rect x="334.47" y="413.33" width="5.4" height="5.4" fill="#fff" stroke="#000000" stroke-width="1.1"/>
<path d="M336.99 422.34H343.19M336.99 436.74H343.19" stroke="#000000" stroke-width="1.8" fill="none"/>
<path d="M340.09 422.34V426.24M340.09 432.84V436.74" stroke="#000000" stroke-width="1.5" fill="none"/>
<rect x="337.39" y="426.84" width="5.4" height="5.4" fill="#fff" stroke="#000000" stroke-width="1.1"/>
<path d="M339.9 426.84H346.1M339.9 444.85H346.1" stroke="#000000" stroke-width="1.8" fill="none"/>
<path d="M343 426.84V432.54M343 439.14V444.85" stroke="#000000" stroke-width="1.5" fill="none"/>
<rect x="340.3" y="433.14" width="5.4" height="5.4" fill="#fff" stroke="#000000" stroke-width="1.1"/>
<path d="M344.27 429.99H350.48M344.27 460.6H350.48" stroke="#000000" stroke-width="1.8" fill="none"/>
<path d="M347.38 429.99V442M347.38 448.6V460.6" stroke="#000000" stroke-width="1.5" fill="none"/>
<rect x="344.68" y="442.6" width="5.4" height="5.4" fill="#fff" stroke="#000000" stroke-width="1.1"/>
<path d="M351.56 443.23H357.76M351.56 468.44H357.76" stroke="#000000" stroke-width="1.8" fill="none"/>
<path d="M354.66 443.23V452.53M354.66 459.13V468.44" stroke="#000000" stroke-width="1.5" fill="none"/>
<rect x="351.96" y="453.13" width="5.4" height="5.4" fill="#fff" stroke="#000000" stroke-width="1.1"/>
<path d="M373.42 466.1H379.62M373.42 482.3H379.62" stroke="#000000" stroke-width="1.8" fill="none"/>
<path d="M376.52 466.1V470.9M376.52 477.5V482.3" stroke="#000000" stroke-width="1.5" fill="none"/>
<rect x="373.82" y="471.5" width="5.4" height="5.4" fill="#fff" stroke="#000000" stroke-width="1.1"/>
<path d="M395.29 485.72H401.49M395.29 491.13H401.49" stroke="#000000" stroke-width="1.8" fill="none"/>
<rect x="395.69" y="485.73" width="5.4" height="5.4" fill="#fff" stroke="#000000" stroke-width="1.1"/>
<path d="M417.15 495.54H423.35M417.15 500.94H423.35" stroke="#000000" stroke-width="1.8" fill="none"/>
<rect x="417.55" y="495.54" width="5.4" height="5.4" fill="#fff" stroke="#000000" stroke-width="1.1"/>
<path d="M460.88 515.44H467.08M460.88 522.64H467.08" stroke="#000000" stroke-width="1.8" fill="none"/>
<path d="M463.98 515.44V515.74M463.98 522.34V522.64" stroke="#000000" stroke-width="1.5" fill="none"/>
<rect x="461.28" y="516.34" width="5.4" height="5.4" fill="#fff" stroke="#000000" stroke-width="1.1"/>
<path d="M504.6 522.28H510.8M504.6 531.28H510.8" stroke="#000000" stroke-width="1.8" fill="none"/>
<path d="M507.7 522.28V523.48M507.7 530.08V531.28" stroke="#000000" stroke-width="1.5" fill="none"/>
<rect x="505" y="524.08" width="5.4" height="5.4" fill="#fff" stroke="#000000" stroke-width="1.1"/>
<path d="M329.7 402.53H335.9M329.7 411.53H335.9" stroke="#FF0000" stroke-width="1.8" fill="none"/>
<path d="M332.8 402.53V402.63M332.8 411.43V411.53" stroke="#FF0000" stroke-width="1.5" fill="none"/>
<circle cx="332.8" cy="407.03" r="3.8" fill="#fff" stroke="#FF0000" stroke-width="1.1"/>
<path d="M331.16 356.61H337.36M331.16 439.44H337.36" stroke="#FF0000" stroke-width="1.8" fill="none"/>
<path d="M334.26 356.61V393.63M334.26 402.43V439.44" stroke="#FF0000" stroke-width="1.5" fill="none"/>
<circle cx="334.26" cy="398.03" r="3.8" fill="#fff" stroke="#FF0000" stroke-width="1.1"/>
<path d="M334.07 426.12H340.27M334.07 438.72H340.27" stroke="#FF0000" stroke-width="1.8" fill="none"/>
<path d="M337.17 426.12V428.02M337.17 436.82V438.72" stroke="#FF0000" stroke-width="1.5" fill="none"/>
<circle cx="337.17" cy="432.42" r="3.8" fill="#fff" stroke="#FF0000" stroke-width="1.1"/>
<path d="M336.99 430.44H343.19M336.99 453.85H343.19" stroke="#FF0000" stroke-width="1.8" fill="none"/>
<path d="M340.09 430.44V437.75M340.09 446.55V453.85" stroke="#FF0000" stroke-width="1.5" fill="none"/>
<circle cx="340.09" cy="442.15" r="3.8" fill="#fff" stroke="#FF0000" stroke-width="1.1"/>
<path d="M339.9 435.84H346.1M339.9 453.85H346.1" stroke="#FF0000" stroke-width="1.8" fill="none"/>
<path d="M343 435.84V440.45M343 449.25V453.85" stroke="#FF0000" stroke-width="1.5" fill="none"/>
<circle cx="343" cy="444.85" r="3.8" fill="#fff" stroke="#FF0000" stroke-width="1.1"/>
<path d="M344.27 438.09H350.48M344.27 468.71H350.48" stroke="#FF0000" stroke-width="1.8" fill="none"/>
<path d="M347.38 438.09V449M347.38 457.8V468.71" stroke="#FF0000" stroke-width="1.5" fill="none"/>
<circle cx="347.38" cy="453.4" r="3.8" fill="#fff" stroke="#FF0000" stroke-width="1.1"/>
<path d="M351.56 446.11H357.76M351.56 478.52H357.76" stroke="#FF0000" stroke-width="1.8" fill="none"/>
<path d="M354.66 446.11V457.91M354.66 466.71V478.52" stroke="#FF0000" stroke-width="1.5" fill="none"/>
<circle cx="354.66" cy="462.31" r="3.8" fill="#fff" stroke="#FF0000" stroke-width="1.1"/>
<path d="M373.42 461.59H379.62M373.42 468.8H379.62" stroke="#FF0000" stroke-width="1.8" fill="none"/>
<circle cx="376.52" cy="465.2" r="3.8" fill="#fff" stroke="#FF0000" stroke-width="1.1"/>
<path d="M395.29 485.72H401.49M395.29 491.13H401.49" stroke="#FF0000" stroke-width="1.8" fill="none"/>
<circle cx="398.39" cy="488.43" r="3.8" fill="#fff" stroke="#FF0000" stroke-width="1.1"/>
<path d="M417.15 495.54H423.35M417.15 500.94H423.35" stroke="#FF0000" stroke-width="1.8" fill="none"/>
<circle cx="420.25" cy="498.24" r="3.8" fill="#fff" stroke="#FF0000" stroke-width="1.1"/>
<path d="M460.88 515.44H467.08M460.88 522.64H467.08" stroke="#FF0000" stroke-width="1.8" fill="none"/>
<circle cx="463.98" cy="519.04" r="3.8" fill="#fff" stroke="#FF0000" stroke-width="1.1"/>
<path d="M504.6 508.77H510.8M504.6 530.38H510.8" stroke="#FF0000" stroke-width="1.8" fill="none"/>
<path d="M507.7 508.77V515.18M507.7 523.98V530.38" stroke="#FF0000" stroke-width="1.5" fill="none"/>
<circle cx="507.7" cy="519.58" r="3.8" fill="#fff" stroke="#FF0000" stroke-width="1.1"/>
<path d="M329.7 383.62H335.9M329.7 394.43H335.9" stroke="#0000FF" stroke-width="1.8" fill="none"/>
<path d="M332.8 383.62V384.02M332.8 392.92V394.43" stroke="#0000FF" stroke-width="1.5" fill="none"/>
<path d="M332.8 384.54L337.3 392.34L328.3 392.34Z" fill="#fff" stroke="#0000FF" stroke-width="1.1"/>
<path d="M331.16 381.82H337.36M331.16 399.83H337.36" stroke="#0000FF" stroke-width="1.8" fill="none"/>
<path d="M334.26 381.82V385.82M334.26 394.72V399.83" stroke="#0000FF" stroke-width="1.5" fill="none"/>
<path d="M334.26 386.34L338.76 394.14L329.76 394.14Z" fill="#fff" stroke="#0000FF" stroke-width="1.1"/>
<path d="M334.07 398.03H340.27M334.07 407.03H340.27" stroke="#0000FF" stroke-width="1.8" fill="none"/>
<path d="M337.17 406.43V407.03" stroke="#0000FF" stroke-width="1.5" fill="none"/>
<path d="M337.17 398.04L341.67 405.84L332.67 405.84Z" fill="#fff" stroke="#0000FF" stroke-width="1.1"/>
<path d="M336.99 407.03H343.19M336.99 416.03H343.19" stroke="#0000FF" stroke-width="1.8" fill="none"/>
<path d="M340.09 415.43V416.03" stroke="#0000FF" stroke-width="1.5" fill="none"/>
<path d="M340.09 407.05L344.59 414.85L335.59 414.85Z" fill="#fff" stroke="#0000FF" stroke-width="1.1"/>
<path d="M339.9 411.53H346.1M339.9 420.54H346.1" stroke="#0000FF" stroke-width="1.8" fill="none"/>
<path d="M343 419.93V420.54" stroke="#0000FF" stroke-width="1.5" fill="none"/>
<path d="M343 411.55L347.5 419.35L338.5 419.35Z" fill="#fff" stroke="#0000FF" stroke-width="1.1"/>
<path d="M344.27 418.74H350.48M344.27 427.74H350.48" stroke="#0000FF" stroke-width="1.8" fill="none"/>
<path d="M347.38 427.14V427.74" stroke="#0000FF" stroke-width="1.5" fill="none"/>
<path d="M347.38 418.75L351.88 426.55L342.88 426.55Z" fill="#fff" stroke="#0000FF" stroke-width="1.1"/>
<path d="M351.56 425.04H357.76M351.56 434.04H357.76" stroke="#0000FF" stroke-width="1.8" fill="none"/>
<path d="M354.66 433.44V434.04" stroke="#0000FF" stroke-width="1.5" fill="none"/>
<path d="M354.66 425.06L359.16 432.86L350.16 432.86Z" fill="#fff" stroke="#0000FF" stroke-width="1.1"/>
<path d="M373.42 439.44H379.62M373.42 446.65H379.62" stroke="#0000FF" stroke-width="1.8" fill="none"/>
<path d="M376.52 438.56L381.02 446.36L372.02 446.36Z" fill="#fff" stroke="#0000FF" stroke-width="1.1"/>
<path d="M395.29 460.33H401.49M395.29 467.54H401.49" stroke="#0000FF" stroke-width="1.8" fill="none"/>
<path d="M398.39 459.45L402.89 467.25L393.89 467.25Z" fill="#fff" stroke="#0000FF" stroke-width="1.1"/>
<path d="M417.15 471.86H423.35M417.15 479.06H423.35" stroke="#0000FF" stroke-width="1.8" fill="none"/>
<path d="M420.25 470.98L424.75 478.78L415.75 478.78Z" fill="#fff" stroke="#0000FF" stroke-width="1.1"/>
<path d="M460.88 500.58H467.08M460.88 507.78H467.08" stroke="#0000FF" stroke-width="1.8" fill="none"/>
<path d="M463.98 499.7L468.48 507.5L459.48 507.5Z" fill="#fff" stroke="#0000FF" stroke-width="1.1"/>
<path d="M504.6 508.14H510.8M504.6 517.15H510.8" stroke="#0000FF" stroke-width="1.8" fill="none"/>
<path d="M507.7 516.55V517.15" stroke="#0000FF" stroke-width="1.5" fill="none"/>
<path d="M507.7 508.16L512.2 515.96L503.2 515.96Z" fill="#fff" stroke="#0000FF" stroke-width="1.1"/>
<path d="M329.7 388.12H335.9M329.7 398.93H335.9" stroke="#008000" stroke-width="1.8" fill="none"/>
<path d="M332.8 388.12V389.62M332.8 398.52V398.93" stroke="#008000" stroke-width="1.5" fill="none"/>
<path d="M332.8 398.01L337.3 390.21L328.3 390.21Z" fill="#fff" stroke="#008000" stroke-width="1.1"/>
<path d="M331.16 372.82H337.36M331.16 408.83H337.36" stroke="#008000" stroke-width="1.8" fill="none"/>
<path d="M334.26 372.82V386.92M334.26 395.82V408.83" stroke="#008000" stroke-width="1.5" fill="none"/>
<path d="M334.26 395.31L338.76 387.51L329.76 387.51Z" fill="#fff" stroke="#008000" stroke-width="1.1"/>
<path d="M334.07 401.63H340.27M334.07 412.43H340.27" stroke="#008000" stroke-width="1.8" fill="none"/>
<path d="M337.17 401.63V403.13M337.17 412.03V412.43" stroke="#008000" stroke-width="1.5" fill="none"/>
<path d="M337.17 411.52L341.67 403.72L332.67 403.72Z" fill="#fff" stroke="#008000" stroke-width="1.1"/>
<path d="M336.99 408.83H343.19M336.99 419.64H343.19" stroke="#008000" stroke-width="1.8" fill="none"/>
<path d="M340.09 408.83V410.33M340.09 419.23V419.64" stroke="#008000" stroke-width="1.5" fill="none"/>
<path d="M340.09 418.72L344.59 410.92L335.59 410.92Z" fill="#fff" stroke="#008000" stroke-width="1.1"/>
<path d="M339.9 414.23H346.1M339.9 425.04H346.1" stroke="#008000" stroke-width="1.8" fill="none"/>
<path d="M343 414.23V415.74M343 424.64V425.04" stroke="#008000" stroke-width="1.5" fill="none"/>
<path d="M343 424.12L347.5 416.32L338.5 416.32Z" fill="#fff" stroke="#008000" stroke-width="1.1"/>
<path d="M344.27 419.64H350.48M344.27 430.44H350.48" stroke="#008000" stroke-width="1.8" fill="none"/>
<path d="M347.38 419.64V421.14M347.38 430.04V430.44" stroke="#008000" stroke-width="1.5" fill="none"/>
<path d="M347.38 429.52L351.88 421.72L342.88 421.72Z" fill="#fff" stroke="#008000" stroke-width="1.1"/>
<path d="M351.56 428.64H357.76M351.56 439.44H357.76" stroke="#008000" stroke-width="1.8" fill="none"/>
<path d="M354.66 428.64V430.14M354.66 439.04V439.44" stroke="#008000" stroke-width="1.5" fill="none"/>
<path d="M354.66 438.53L359.16 430.73L350.16 430.73Z" fill="#fff" stroke="#008000" stroke-width="1.1"/>
<path d="M373.42 437.01H379.62M373.42 444.22H379.62" stroke="#008000" stroke-width="1.8" fill="none"/>
<path d="M376.52 445.1L381.02 437.3L372.02 437.3Z" fill="#fff" stroke="#008000" stroke-width="1.1"/>
<path d="M395.29 463.75H401.49M395.29 470.96H401.49" stroke="#008000" stroke-width="1.8" fill="none"/>
<path d="M398.39 471.84L402.89 464.04L393.89 464.04Z" fill="#fff" stroke="#008000" stroke-width="1.1"/>
<path d="M417.15 480.86H423.35M417.15 488.07H423.35" stroke="#008000" stroke-width="1.8" fill="none"/>
<path d="M420.25 488.95L424.75 481.15L415.75 481.15Z" fill="#fff" stroke="#008000" stroke-width="1.1"/>
<path d="M460.88 506.43H467.08M460.88 513.64H467.08" stroke="#008000" stroke-width="1.8" fill="none"/>
<path d="M463.98 514.52L468.48 506.72L459.48 506.72Z" fill="#fff" stroke="#008000" stroke-width="1.1"/>
<path d="M504.6 515.08H510.8M504.6 524.08H510.8" stroke="#008000" stroke-width="1.8" fill="none"/>
<path d="M507.7 515.08V515.68" stroke="#008000" stroke-width="1.5" fill="none"/>
<path d="M507.7 524.06L512.2 516.26L503.2 516.26Z" fill="#fff" stroke="#008000" stroke-width="1.1"/>
<path d="M329.7 388.12H335.9M329.7 398.93H335.9" stroke="#8000FF" stroke-width="1.8" fill="none"/>
<path d="M332.8 388.12V388.62M332.8 398.42V398.93" stroke="#8000FF" stroke-width="1.5" fill="none"/>
<path d="M332.8 389.22L337.1 393.52L332.8 397.82L328.5 393.52Z" fill="#fff" stroke="#8000FF" stroke-width="1.1"/>
<path d="M331.16 379.12H337.36M331.16 407.93H337.36" stroke="#8000FF" stroke-width="1.8" fill="none"/>
<path d="M334.26 379.12V388.62M334.26 398.42V407.93" stroke="#8000FF" stroke-width="1.5" fill="none"/>
<path d="M334.26 389.22L338.56 393.52L334.26 397.82L329.96 393.52Z" fill="#fff" stroke="#8000FF" stroke-width="1.1"/>
<path d="M334.07 403.43H340.27M334.07 414.23H340.27" stroke="#8000FF" stroke-width="1.8" fill="none"/>
<path d="M337.17 403.43V403.93M337.17 413.73V414.23" stroke="#8000FF" stroke-width="1.5" fill="none"/>
<path d="M337.17 404.53L341.47 408.83L337.17 413.13L332.87 408.83Z" fill="#fff" stroke="#8000FF" stroke-width="1.1"/>
<path d="M336.99 410.63H343.19M336.99 421.44H343.19" stroke="#8000FF" stroke-width="1.8" fill="none"/>
<path d="M340.09 410.63V411.13M340.09 420.93V421.44" stroke="#8000FF" stroke-width="1.5" fill="none"/>
<path d="M340.09 411.73L344.39 416.03L340.09 420.33L335.79 416.03Z" fill="#fff" stroke="#8000FF" stroke-width="1.1"/>
<path d="M339.9 417.84H346.1M339.9 428.64H346.1" stroke="#8000FF" stroke-width="1.8" fill="none"/>
<path d="M343 417.84V418.34M343 428.14V428.64" stroke="#8000FF" stroke-width="1.5" fill="none"/>
<path d="M343 418.94L347.3 423.24L343 427.54L338.7 423.24Z" fill="#fff" stroke="#8000FF" stroke-width="1.1"/>
<path d="M344.27 426.84H350.48M344.27 437.64H350.48" stroke="#8000FF" stroke-width="1.8" fill="none"/>
<path d="M347.38 426.84V427.34M347.38 437.14V437.64" stroke="#8000FF" stroke-width="1.5" fill="none"/>
<path d="M347.38 427.94L351.68 432.24L347.38 436.54L343.07 432.24Z" fill="#fff" stroke="#8000FF" stroke-width="1.1"/>
<path d="M351.56 434.04H357.76M351.56 448.45H357.76" stroke="#8000FF" stroke-width="1.8" fill="none"/>
<path d="M354.66 434.04V436.35M354.66 446.15V448.45" stroke="#8000FF" stroke-width="1.5" fill="none"/>
<path d="M354.66 436.95L358.96 441.25L354.66 445.55L350.36 441.25Z" fill="#fff" stroke="#8000FF" stroke-width="1.1"/>
<path d="M373.42 448.72H379.62M373.42 455.92H379.62" stroke="#8000FF" stroke-width="1.8" fill="none"/>
<path d="M376.52 448.02L380.82 452.32L376.52 456.62L372.22 452.32Z" fill="#fff" stroke="#8000FF" stroke-width="1.1"/>
<path d="M395.29 465.56H401.49M395.29 472.76H401.49" stroke="#8000FF" stroke-width="1.8" fill="none"/>
<path d="M398.39 464.86L402.69 469.16L398.39 473.46L394.09 469.16Z" fill="#fff" stroke="#8000FF" stroke-width="1.1"/>
<path d="M417.15 475.46H423.35M417.15 482.66H423.35" stroke="#8000FF" stroke-width="1.8" fill="none"/>
<path d="M420.25 474.76L424.55 479.06L420.25 483.36L415.95 479.06Z" fill="#fff" stroke="#8000FF" stroke-width="1.1"/>
<path d="M460.88 500.58H467.08M460.88 507.78H467.08" stroke="#8000FF" stroke-width="1.8" fill="none"/>
<path d="M463.98 499.88L468.28 504.18L463.98 508.48L459.68 504.18Z" fill="#fff" stroke="#8000FF" stroke-width="1.1"/>
<path d="M504.6 514.54H510.8M504.6 523.54H510.8" stroke="#8000FF" stroke-width="1.8" fill="none"/>
<path d="M507.7 514.74L512 519.04L507.7 523.34L503.4 519.04Z" fill="#fff" stroke="#8000FF" stroke-width="1.1"/>
<path d="M274.5 335H566V569.1H274.5Z" fill="none" stroke="#000" stroke-width="2.1"/>
<text x="266.5" y="573.8" text-anchor="end" font-size="14">0.0</text>
<text x="266.5" y="537.78" text-anchor="end" font-size="14">0.4</text>
<text x="266.5" y="501.77" text-anchor="end" font-size="14">0.8</text>
<text x="266.5" y="465.75" text-anchor="end" font-size="14">1.2</text>
<text x="266.5" y="429.74" text-anchor="end" font-size="14">1.6</text>
<text x="266.5" y="393.72" text-anchor="end" font-size="14">2.0</text>
<text x="266.5" y="357.71" text-anchor="end" font-size="14">2.4</text>
<text x="274.5" y="588.4" text-anchor="middle" font-size="14">-40</text>
<text x="303.65" y="588.4" text-anchor="middle" font-size="14">-20</text>
<text x="332.8" y="588.4" text-anchor="middle" font-size="14">0</text>
<text x="361.95" y="588.4" text-anchor="middle" font-size="14">20</text>
<text x="391.1" y="588.4" text-anchor="middle" font-size="14">40</text>
<text x="420.25" y="588.4" text-anchor="middle" font-size="14">60</text>
<text x="449.4" y="588.4" text-anchor="middle" font-size="14">80</text>
<text x="478.55" y="588.4" text-anchor="middle" font-size="14">100</text>
<text x="507.7" y="588.4" text-anchor="middle" font-size="14">120</text>
<text x="536.85" y="588.4" text-anchor="middle" font-size="14">140</text>
<text x="566" y="588.4" text-anchor="middle" font-size="14">160</text>
<path d="M269.9 569.1H274.5M269.9 533.08H274.5M269.9 497.07H274.5M269.9 461.05H274.5M269.9 425.04H274.5M269.9 389.02H274.5M269.9 353.01H274.5M271.9 551.09H274.5M271.9 515.08H274.5M271.9 479.06H274.5M271.9 443.05H274.5M271.9 407.03H274.5M271.9 371.02H274.5M274.5 569.1V573.6M303.65 569.1V573.6M332.8 569.1V573.6M361.95 569.1V573.6M391.1 569.1V573.6M420.25 569.1V573.6M449.4 569.1V573.6M478.55 569.1V573.6M507.7 569.1V573.6M536.85 569.1V573.6M566 569.1V573.6M289.07 569.1V571.7M318.23 569.1V571.7M347.38 569.1V571.7M376.52 569.1V571.7M405.68 569.1V571.7M434.83 569.1V571.7M463.98 569.1V571.7M493.12 569.1V571.7M522.27 569.1V571.7M551.42 569.1V571.7" stroke="#000" stroke-width="1.5"/>
<text x="422.05" y="608.5" text-anchor="middle" font-size="14" textLength="66.5" lengthAdjust="spacingAndGlyphs">Time (day)</text>
<text transform="translate(218,448) rotate(-90)" text-anchor="middle" font-size="14.4" textLength="233" lengthAdjust="spacingAndGlyphs">Concentration of pyriminobac-methyl</text>
<text transform="translate(243,445.7) rotate(-90)" text-anchor="middle" font-size="14.4">in soil (mg kg<tspan dy="-6" font-size="13.5">-1</tspan><tspan dy="6">)</tspan></text>
<text x="382.6" y="359.1" font-size="15" textLength="55" lengthAdjust="spacingAndGlyphs">Aerobic,</text>
<text x="442.4" y="359.1" font-size="15" textLength="16.3" lengthAdjust="spacingAndGlyphs">40</text>
<text x="461.6" y="359.1" font-size="15" textLength="13.4" lengthAdjust="spacingAndGlyphs">%</text>
<text x="543.6" y="354.2" font-size="15.5">(d)</text>
<path d="M494.7 407.7H524.7" stroke="#000000" stroke-width="2"/>
<rect x="506.5" y="404.5" width="6.4" height="6.4" fill="#fff" stroke="#000000" stroke-width="1.1"/>
<text x="531.8" y="412.6" font-size="14">S1</text>
<path d="M494.7 425.5H524.7" stroke="#FF0000" stroke-width="2"/>
<circle cx="509.7" cy="425.5" r="3.89" fill="#fff" stroke="#FF0000" stroke-width="1.1"/>
<text x="531.8" y="430.4" font-size="14">S2</text>
<path d="M494.7 443.2H524.7" stroke="#0000FF" stroke-width="2"/>
<path d="M509.7 438.61L514.3 446.59L505.1 446.59Z" fill="#fff" stroke="#0000FF" stroke-width="1.1"/>
<text x="531.8" y="448.1" font-size="14">S3</text>
<path d="M494.7 461H524.7" stroke="#008000" stroke-width="2"/>
<path d="M509.7 465.59L514.3 457.61L505.1 457.61Z" fill="#fff" stroke="#008000" stroke-width="1.1"/>
<text x="531.8" y="465.9" font-size="14">S4</text>
<path d="M494.7 478.7H524.7" stroke="#8000FF" stroke-width="2"/>
<path d="M509.7 474.3L514.1 478.7L509.7 483.1L505.3 478.7Z" fill="#fff" stroke="#8000FF" stroke-width="1.1"/>
<text x="531.8" y="483.6" font-size="14">S5</text>
<polyline points="687.55,355.02 691.62,363.85 695.68,372.28 699.75,380.34 703.81,388.04 707.88,395.4 711.94,402.43 716,409.14 720.07,415.56 724.13,421.69 728.2,427.54 732.26,433.14 736.33,438.49 740.39,443.59 744.46,448.48 748.52,453.14 752.59,457.59 756.65,461.85 760.72,465.92 764.78,469.8 768.85,473.52 772.91,477.06 776.97,480.45 781.04,483.69 785.1,486.79 789.17,489.74 793.23,492.57 797.3,495.26 801.36,497.84 805.43,500.31 809.49,502.66 813.56,504.91 817.62,507.06 821.69,509.11 825.75,511.07 829.82,512.94 833.88,514.73 837.94,516.45 842.01,518.08 846.07,519.64 850.14,521.13 854.2,522.56 858.27,523.92 862.33,525.22 866.4,526.46 870.46,527.65 874.53,528.79 878.59,529.87 882.66,530.91 886.72,531.9 890.79,532.84 894.85,533.75 898.91,534.61 902.98,535.43 907.04,536.22 911.11,536.98 915.17,537.7 919.24,538.38 923.3,539.04 927.37,539.67 931.43,540.27" fill="none" stroke="#000000" stroke-width="1.85" stroke-linejoin="round"/>
<polyline points="687.55,356.03 691.62,363.44 695.68,370.57 699.75,377.43 703.81,384.03 707.88,390.39 711.94,396.51 716,402.39 720.07,408.06 724.13,413.51 728.2,418.76 732.26,423.81 736.33,428.67 740.39,433.35 744.46,437.85 748.52,442.18 752.59,446.35 756.65,450.36 760.72,454.23 764.78,457.94 768.85,461.52 772.91,464.96 776.97,468.28 781.04,471.47 785.1,474.53 789.17,477.49 793.23,480.33 797.3,483.07 801.36,485.7 805.43,488.23 809.49,490.67 813.56,493.02 817.62,495.28 821.69,497.45 825.75,499.55 829.82,501.56 833.88,503.5 837.94,505.36 842.01,507.16 846.07,508.88 850.14,510.55 854.2,512.15 858.27,513.69 862.33,515.17 866.4,516.6 870.46,517.97 874.53,519.29 878.59,520.56 882.66,521.79 886.72,522.96 890.79,524.1 894.85,525.19 898.91,526.24 902.98,527.25 907.04,528.22 911.11,529.16 915.17,530.06 919.24,530.92 923.3,531.76 927.37,532.56 931.43,533.33" fill="none" stroke="#FF0000" stroke-width="1.85" stroke-linejoin="round"/>
<polyline points="687.55,352.99 691.62,359.1 695.68,365.02 699.75,370.77 703.81,376.33 707.88,381.73 711.94,386.96 716,392.03 720.07,396.95 724.13,401.71 728.2,406.33 732.26,410.81 736.33,415.16 740.39,419.37 744.46,423.45 748.52,427.41 752.59,431.25 756.65,434.97 760.72,438.57 764.78,442.07 768.85,445.46 772.91,448.74 776.97,451.93 781.04,455.02 785.1,458.01 789.17,460.91 793.23,463.73 797.3,466.46 801.36,469.1 805.43,471.67 809.49,474.15 813.56,476.56 817.62,478.9 821.69,481.16 825.75,483.36 829.82,485.49 833.88,487.55 837.94,489.56 842.01,491.5 846.07,493.38 850.14,495.2 854.2,496.97 858.27,498.68 862.33,500.34 866.4,501.95 870.46,503.52 874.53,505.03 878.59,506.5 882.66,507.92 886.72,509.3 890.79,510.64 894.85,511.93 898.91,513.19 902.98,514.41 907.04,515.59 911.11,516.74 915.17,517.85 919.24,518.92 923.3,519.97 927.37,520.98 931.43,521.96" fill="none" stroke="#0000FF" stroke-width="1.85" stroke-linejoin="round"/>
<polyline points="687.55,378 691.62,383.76 695.68,389.34 699.75,394.72 703.81,399.94 707.88,404.98 711.94,409.85 716,414.56 720.07,419.12 724.13,423.53 728.2,427.8 732.26,431.92 736.33,435.91 740.39,439.76 744.46,443.49 748.52,447.1 752.59,450.59 756.65,453.96 760.72,457.22 764.78,460.38 768.85,463.43 772.91,466.38 776.97,469.24 781.04,472 785.1,474.67 789.17,477.25 793.23,479.74 797.3,482.16 801.36,484.49 805.43,486.75 809.49,488.93 813.56,491.05 817.62,493.09 821.69,495.06 825.75,496.97 829.82,498.82 833.88,500.61 837.94,502.34 842.01,504.01 846.07,505.62 850.14,507.19 854.2,508.7 858.27,510.16 862.33,511.57 866.4,512.94 870.46,514.26 874.53,515.54 878.59,516.78 882.66,517.97 886.72,519.13 890.79,520.25 894.85,521.33 898.91,522.37 902.98,523.39 907.04,524.36 911.11,525.31 915.17,526.23 919.24,527.11 923.3,527.97 927.37,528.79 931.43,529.59" fill="none" stroke="#008000" stroke-width="1.85" stroke-linejoin="round"/>
<polyline points="687.55,352.99 691.62,359.53 695.68,365.84 699.75,371.95 703.81,377.86 707.88,383.58 711.94,389.12 716,394.47 720.07,399.64 724.13,404.65 728.2,409.5 732.26,414.18 736.33,418.72 740.39,423.1 744.46,427.34 748.52,431.45 752.59,435.42 756.65,439.26 760.72,442.98 764.78,446.57 768.85,450.05 772.91,453.41 776.97,456.66 781.04,459.81 785.1,462.86 789.17,465.8 793.23,468.65 797.3,471.41 801.36,474.07 805.43,476.65 809.49,479.15 813.56,481.56 817.62,483.9 821.69,486.15 825.75,488.34 829.82,490.45 833.88,492.5 837.94,494.48 842.01,496.39 846.07,498.24 850.14,500.03 854.2,501.76 858.27,503.44 862.33,505.06 866.4,506.63 870.46,508.15 874.53,509.61 878.59,511.03 882.66,512.41 886.72,513.74 890.79,515.02 894.85,516.26 898.91,517.47 902.98,518.63 907.04,519.76 911.11,520.84 915.17,521.9 919.24,522.92 923.3,523.9 927.37,524.85 931.43,525.78" fill="none" stroke="#8000FF" stroke-width="1.85" stroke-linejoin="round"/>
<path d="M717.94 409H724.14M717.94 416.8H724.14" stroke="#000000" stroke-width="1.8" fill="none"/>
<path d="M721.04 409V409.6M721.04 416.2V416.8" stroke="#000000" stroke-width="1.5" fill="none"/>
<rect x="718.34" y="410.2" width="5.4" height="5.4" fill="#fff" stroke="#000000" stroke-width="1.1"/>
<path d="M719.4 412.9H725.6M719.4 420.69H725.6" stroke="#000000" stroke-width="1.8" fill="none"/>
<path d="M722.5 412.9V413.5M722.5 420.1V420.69" stroke="#000000" stroke-width="1.5" fill="none"/>
<rect x="719.8" y="414.1" width="5.4" height="5.4" fill="#fff" stroke="#000000" stroke-width="1.1"/>
<path d="M722.31 423.03H728.51M722.31 430.82H728.51" stroke="#000000" stroke-width="1.8" fill="none"/>
<path d="M725.41 423.03V423.62M725.41 430.22V430.82" stroke="#000000" stroke-width="1.5" fill="none"/>
<rect x="722.71" y="424.22" width="5.4" height="5.4" fill="#fff" stroke="#000000" stroke-width="1.1"/>
<path d="M725.22 428.25H731.42M725.22 437.59H731.42" stroke="#000000" stroke-width="1.8" fill="none"/>
<path d="M728.32 428.25V429.62M728.32 436.22V437.59" stroke="#000000" stroke-width="1.5" fill="none"/>
<rect x="725.62" y="430.22" width="5.4" height="5.4" fill="#fff" stroke="#000000" stroke-width="1.1"/>
<path d="M728.13 431.6H734.33M728.13 440.94H734.33" stroke="#000000" stroke-width="1.8" fill="none"/>
<path d="M731.23 431.6V432.97M731.23 439.57V440.94" stroke="#000000" stroke-width="1.5" fill="none"/>
<rect x="728.53" y="433.57" width="5.4" height="5.4" fill="#fff" stroke="#000000" stroke-width="1.1"/>
<path d="M732.5 430.82H738.7M732.5 451.07H738.7" stroke="#000000" stroke-width="1.8" fill="none"/>
<path d="M735.6 430.82V437.64M735.6 444.24V451.07" stroke="#000000" stroke-width="1.5" fill="none"/>
<rect x="732.9" y="438.24" width="5.4" height="5.4" fill="#fff" stroke="#000000" stroke-width="1.1"/>
<path d="M739.78 445.38H745.98M739.78 465.64H745.98" stroke="#000000" stroke-width="1.8" fill="none"/>
<path d="M742.88 445.38V452.21M742.88 458.81V465.64" stroke="#000000" stroke-width="1.5" fill="none"/>
<rect x="740.18" y="452.81" width="5.4" height="5.4" fill="#fff" stroke="#000000" stroke-width="1.1"/>
<path d="M761.62 468.52H767.82M761.62 482.54H767.82" stroke="#000000" stroke-width="1.8" fill="none"/>
<path d="M764.72 468.52V472.23M764.72 478.83V482.54" stroke="#000000" stroke-width="1.5" fill="none"/>
<rect x="762.02" y="472.83" width="5.4" height="5.4" fill="#fff" stroke="#000000" stroke-width="1.1"/>
<path d="M783.46 487.37H789.66M783.46 492.05H789.66" stroke="#000000" stroke-width="1.8" fill="none"/>
<rect x="783.86" y="487.01" width="5.4" height="5.4" fill="#fff" stroke="#000000" stroke-width="1.1"/>
<path d="M805.3 497.66H811.5M805.3 502.33H811.5" stroke="#000000" stroke-width="1.8" fill="none"/>
<rect x="805.7" y="497.29" width="5.4" height="5.4" fill="#fff" stroke="#000000" stroke-width="1.1"/>
<path d="M848.98 507.86H855.18M848.98 521.1H855.18" stroke="#000000" stroke-width="1.8" fill="none"/>
<path d="M852.08 507.86V511.18M852.08 517.78V521.1" stroke="#000000" stroke-width="1.5" fill="none"/>
<rect x="849.38" y="511.78" width="5.4" height="5.4" fill="#fff" stroke="#000000" stroke-width="1.1"/>
<path d="M892.66 507.55H898.86M892.66 533.26H898.86" stroke="#000000" stroke-width="1.8" fill="none"/>
<path d="M895.76 507.55V517.1M895.76 523.7V533.26" stroke="#000000" stroke-width="1.5" fill="none"/>
<rect x="893.06" y="517.7" width="5.4" height="5.4" fill="#fff" stroke="#000000" stroke-width="1.1"/>
<path d="M717.94 397.32H724.14M717.94 412.9H724.14" stroke="#FF0000" stroke-width="1.8" fill="none"/>
<path d="M721.04 397.32V400.71M721.04 409.51V412.9" stroke="#FF0000" stroke-width="1.5" fill="none"/>
<circle cx="721.04" cy="405.11" r="3.8" fill="#fff" stroke="#FF0000" stroke-width="1.1"/>
<path d="M719.4 385.63H725.6M719.4 416.8H725.6" stroke="#FF0000" stroke-width="1.8" fill="none"/>
<path d="M722.5 385.63V396.82M722.5 405.62V416.8" stroke="#FF0000" stroke-width="1.5" fill="none"/>
<circle cx="722.5" cy="401.22" r="3.8" fill="#fff" stroke="#FF0000" stroke-width="1.1"/>
<path d="M722.31 405.11H728.51M722.31 417.57H728.51" stroke="#FF0000" stroke-width="1.8" fill="none"/>
<path d="M725.41 405.11V406.94M725.41 415.74V417.57" stroke="#FF0000" stroke-width="1.5" fill="none"/>
<circle cx="725.41" cy="411.34" r="3.8" fill="#fff" stroke="#FF0000" stroke-width="1.1"/>
<path d="M725.22 412.9H731.42M725.22 425.36H731.42" stroke="#FF0000" stroke-width="1.8" fill="none"/>
<path d="M728.32 412.9V414.73M728.32 423.53V425.36" stroke="#FF0000" stroke-width="1.5" fill="none"/>
<circle cx="728.32" cy="419.13" r="3.8" fill="#fff" stroke="#FF0000" stroke-width="1.1"/>
<path d="M728.13 418.35H734.33M728.13 430.82H734.33" stroke="#FF0000" stroke-width="1.8" fill="none"/>
<path d="M731.23 418.35V420.19M731.23 428.99V430.82" stroke="#FF0000" stroke-width="1.5" fill="none"/>
<circle cx="731.23" cy="424.59" r="3.8" fill="#fff" stroke="#FF0000" stroke-width="1.1"/>
<path d="M732.5 428.48H738.7M732.5 440.94H738.7" stroke="#FF0000" stroke-width="1.8" fill="none"/>
<path d="M735.6 428.48V430.31M735.6 439.11V440.94" stroke="#FF0000" stroke-width="1.5" fill="none"/>
<circle cx="735.6" cy="434.71" r="3.8" fill="#fff" stroke="#FF0000" stroke-width="1.1"/>
<path d="M739.78 436.27H745.98M739.78 448.73H745.98" stroke="#FF0000" stroke-width="1.8" fill="none"/>
<path d="M742.88 436.27V438.1M742.88 446.9V448.73" stroke="#FF0000" stroke-width="1.5" fill="none"/>
<circle cx="742.88" cy="442.5" r="3.8" fill="#fff" stroke="#FF0000" stroke-width="1.1"/>
<path d="M761.62 462.05H767.82M761.62 468.29H767.82" stroke="#FF0000" stroke-width="1.8" fill="none"/>
<circle cx="764.72" cy="465.17" r="3.8" fill="#fff" stroke="#FF0000" stroke-width="1.1"/>
<path d="M783.46 475.14H789.66M783.46 479.82H789.66" stroke="#FF0000" stroke-width="1.8" fill="none"/>
<circle cx="786.56" cy="477.48" r="3.8" fill="#fff" stroke="#FF0000" stroke-width="1.1"/>
<path d="M805.3 485.58H811.5M805.3 490.25H811.5" stroke="#FF0000" stroke-width="1.8" fill="none"/>
<circle cx="808.4" cy="487.92" r="3.8" fill="#fff" stroke="#FF0000" stroke-width="1.1"/>
<path d="M848.98 507.08H855.18M848.98 511.76H855.18" stroke="#FF0000" stroke-width="1.8" fill="none"/>
<circle cx="852.08" cy="509.42" r="3.8" fill="#fff" stroke="#FF0000" stroke-width="1.1"/>
<path d="M892.66 504.82H898.86M892.66 523.52H898.86" stroke="#FF0000" stroke-width="1.8" fill="none"/>
<path d="M895.76 504.82V509.77M895.76 518.57V523.52" stroke="#FF0000" stroke-width="1.5" fill="none"/>
<circle cx="895.76" cy="514.17" r="3.8" fill="#fff" stroke="#FF0000" stroke-width="1.1"/>
<path d="M717.94 387.19H724.14M717.94 399.66H724.14" stroke="#0000FF" stroke-width="1.8" fill="none"/>
<path d="M721.04 387.19V388.43M721.04 397.32V399.66" stroke="#0000FF" stroke-width="1.5" fill="none"/>
<path d="M721.04 388.94L725.54 396.74L716.54 396.74Z" fill="#fff" stroke="#0000FF" stroke-width="1.1"/>
<path d="M719.4 389.53H725.6M719.4 401.99H725.6" stroke="#0000FF" stroke-width="1.8" fill="none"/>
<path d="M722.5 389.53V390.76M722.5 399.66V401.99" stroke="#0000FF" stroke-width="1.5" fill="none"/>
<path d="M722.5 391.28L727 399.08L718 399.08Z" fill="#fff" stroke="#0000FF" stroke-width="1.1"/>
<path d="M722.31 396.54H728.51M722.31 405.89H728.51" stroke="#0000FF" stroke-width="1.8" fill="none"/>
<path d="M725.41 405.12V405.89" stroke="#0000FF" stroke-width="1.5" fill="none"/>
<path d="M725.41 396.73L729.91 404.53L720.91 404.53Z" fill="#fff" stroke="#0000FF" stroke-width="1.1"/>
<path d="M725.22 401.99H731.42M725.22 411.34H731.42" stroke="#0000FF" stroke-width="1.8" fill="none"/>
<path d="M728.32 410.57V411.34" stroke="#0000FF" stroke-width="1.5" fill="none"/>
<path d="M728.32 402.18L732.82 409.98L723.82 409.98Z" fill="#fff" stroke="#0000FF" stroke-width="1.1"/>
<path d="M728.13 406.67H734.33M728.13 416.02H734.33" stroke="#0000FF" stroke-width="1.8" fill="none"/>
<path d="M731.23 415.24V416.02" stroke="#0000FF" stroke-width="1.5" fill="none"/>
<path d="M731.23 406.86L735.73 414.66L726.73 414.66Z" fill="#fff" stroke="#0000FF" stroke-width="1.1"/>
<path d="M732.5 412.9H738.7M732.5 422.25H738.7" stroke="#0000FF" stroke-width="1.8" fill="none"/>
<path d="M735.6 421.47V422.25" stroke="#0000FF" stroke-width="1.5" fill="none"/>
<path d="M735.6 413.09L740.1 420.89L731.1 420.89Z" fill="#fff" stroke="#0000FF" stroke-width="1.1"/>
<path d="M739.78 423.81H745.98M739.78 433.15H745.98" stroke="#0000FF" stroke-width="1.8" fill="none"/>
<path d="M742.88 432.38V433.15" stroke="#0000FF" stroke-width="1.5" fill="none"/>
<path d="M742.88 424L747.38 431.8L738.38 431.8Z" fill="#fff" stroke="#0000FF" stroke-width="1.1"/>
<path d="M761.62 440.09H767.82M761.62 446.32H767.82" stroke="#0000FF" stroke-width="1.8" fill="none"/>
<path d="M764.72 438.72L769.22 446.52L760.22 446.52Z" fill="#fff" stroke="#0000FF" stroke-width="1.1"/>
<path d="M783.46 453.02H789.66M783.46 459.25H789.66" stroke="#0000FF" stroke-width="1.8" fill="none"/>
<path d="M786.56 451.65L791.06 459.45L782.06 459.45Z" fill="#fff" stroke="#0000FF" stroke-width="1.1"/>
<path d="M805.3 460.26H811.5M805.3 472.73H811.5" stroke="#0000FF" stroke-width="1.8" fill="none"/>
<path d="M808.4 460.26V461.5M808.4 470.4V472.73" stroke="#0000FF" stroke-width="1.5" fill="none"/>
<path d="M808.4 462.01L812.9 469.81L803.9 469.81Z" fill="#fff" stroke="#0000FF" stroke-width="1.1"/>
<path d="M848.98 495.47H855.18M848.98 501.71H855.18" stroke="#0000FF" stroke-width="1.8" fill="none"/>
<path d="M852.08 494.11L856.58 501.91L847.58 501.91Z" fill="#fff" stroke="#0000FF" stroke-width="1.1"/>
<path d="M892.66 504.82H898.86M892.66 512.61H898.86" stroke="#0000FF" stroke-width="1.8" fill="none"/>
<path d="M895.76 504.23L900.26 512.03L891.26 512.03Z" fill="#fff" stroke="#0000FF" stroke-width="1.1"/>
<path d="M717.94 404.33H724.14M717.94 412.12H724.14" stroke="#008000" stroke-width="1.8" fill="none"/>
<path d="M721.04 412.71L725.54 404.91L716.54 404.91Z" fill="#fff" stroke="#008000" stroke-width="1.1"/>
<path d="M719.4 407.45H725.6M719.4 415.24H725.6" stroke="#008000" stroke-width="1.8" fill="none"/>
<path d="M722.5 415.83L727 408.03L718 408.03Z" fill="#fff" stroke="#008000" stroke-width="1.1"/>
<path d="M722.31 417.57H728.51M722.31 425.36H728.51" stroke="#008000" stroke-width="1.8" fill="none"/>
<path d="M725.41 425.95L729.91 418.15L720.91 418.15Z" fill="#fff" stroke="#008000" stroke-width="1.1"/>
<path d="M725.22 423.03H731.42M725.22 430.82H731.42" stroke="#008000" stroke-width="1.8" fill="none"/>
<path d="M728.32 431.41L732.82 423.61L723.82 423.61Z" fill="#fff" stroke="#008000" stroke-width="1.1"/>
<path d="M728.13 427.7H734.33M728.13 435.49H734.33" stroke="#008000" stroke-width="1.8" fill="none"/>
<path d="M731.23 436.08L735.73 428.28L726.73 428.28Z" fill="#fff" stroke="#008000" stroke-width="1.1"/>
<path d="M732.5 433.15H738.7M732.5 440.94H738.7" stroke="#008000" stroke-width="1.8" fill="none"/>
<path d="M735.6 441.53L740.1 433.73L731.1 433.73Z" fill="#fff" stroke="#008000" stroke-width="1.1"/>
<path d="M739.78 437.98H745.98M739.78 450.45H745.98" stroke="#008000" stroke-width="1.8" fill="none"/>
<path d="M742.88 437.98V440.32M742.88 449.22V450.45" stroke="#008000" stroke-width="1.5" fill="none"/>
<path d="M742.88 448.7L747.38 440.9L738.38 440.9Z" fill="#fff" stroke="#008000" stroke-width="1.1"/>
<path d="M761.62 453.41H767.82M761.62 459.64H767.82" stroke="#008000" stroke-width="1.8" fill="none"/>
<path d="M764.72 461.01L769.22 453.21L760.22 453.21Z" fill="#fff" stroke="#008000" stroke-width="1.1"/>
<path d="M783.46 474.36H789.66M783.46 480.6H789.66" stroke="#008000" stroke-width="1.8" fill="none"/>
<path d="M786.56 481.96L791.06 474.16L782.06 474.16Z" fill="#fff" stroke="#008000" stroke-width="1.1"/>
<path d="M805.3 484.8H811.5M805.3 491.03H811.5" stroke="#008000" stroke-width="1.8" fill="none"/>
<path d="M808.4 492.4L812.9 484.6L803.9 484.6Z" fill="#fff" stroke="#008000" stroke-width="1.1"/>
<path d="M848.98 501.71H855.18M848.98 507.94H855.18" stroke="#008000" stroke-width="1.8" fill="none"/>
<path d="M852.08 509.31L856.58 501.51L847.58 501.51Z" fill="#fff" stroke="#008000" stroke-width="1.1"/>
<path d="M892.66 515.1H898.86M892.66 522.89H898.86" stroke="#008000" stroke-width="1.8" fill="none"/>
<path d="M895.76 523.48L900.26 515.68L891.26 515.68Z" fill="#fff" stroke="#008000" stroke-width="1.1"/>
<path d="M717.94 394.98H724.14M717.94 402.77H724.14" stroke="#8000FF" stroke-width="1.8" fill="none"/>
<path d="M721.04 394.58L725.34 398.88L721.04 403.18L716.74 398.88Z" fill="#fff" stroke="#8000FF" stroke-width="1.1"/>
<path d="M719.4 397.32H725.6M719.4 405.11H725.6" stroke="#8000FF" stroke-width="1.8" fill="none"/>
<path d="M722.5 396.92L726.8 401.22L722.5 405.52L718.2 401.22Z" fill="#fff" stroke="#8000FF" stroke-width="1.1"/>
<path d="M722.31 401.22H728.51M722.31 409H728.51" stroke="#8000FF" stroke-width="1.8" fill="none"/>
<path d="M725.41 400.81L729.71 405.11L725.41 409.41L721.11 405.11Z" fill="#fff" stroke="#8000FF" stroke-width="1.1"/>
<path d="M725.22 405.89H731.42M725.22 413.68H731.42" stroke="#8000FF" stroke-width="1.8" fill="none"/>
<path d="M728.32 405.48L732.62 409.78L728.32 414.08L724.02 409.78Z" fill="#fff" stroke="#8000FF" stroke-width="1.1"/>
<path d="M728.13 412.9H734.33M728.13 420.69H734.33" stroke="#8000FF" stroke-width="1.8" fill="none"/>
<path d="M731.23 412.5L735.53 416.8L731.23 421.1L726.93 416.8Z" fill="#fff" stroke="#8000FF" stroke-width="1.1"/>
<path d="M732.5 418.35H738.7M732.5 426.14H738.7" stroke="#8000FF" stroke-width="1.8" fill="none"/>
<path d="M735.6 417.95L739.9 422.25L735.6 426.55L731.3 422.25Z" fill="#fff" stroke="#8000FF" stroke-width="1.1"/>
<path d="M739.78 423.03H745.98M739.78 430.82H745.98" stroke="#8000FF" stroke-width="1.8" fill="none"/>
<path d="M742.88 422.62L747.18 426.92L742.88 431.22L738.58 426.92Z" fill="#fff" stroke="#8000FF" stroke-width="1.1"/>
<path d="M761.62 446.55H767.82M761.62 452.78H767.82" stroke="#8000FF" stroke-width="1.8" fill="none"/>
<path d="M764.72 445.37L769.02 449.67L764.72 453.97L760.42 449.67Z" fill="#fff" stroke="#8000FF" stroke-width="1.1"/>
<path d="M783.46 456.52H789.66M783.46 462.76H789.66" stroke="#8000FF" stroke-width="1.8" fill="none"/>
<path d="M786.56 455.34L790.86 459.64L786.56 463.94L782.26 459.64Z" fill="#fff" stroke="#8000FF" stroke-width="1.1"/>
<path d="M805.3 472.42H811.5M805.3 478.65H811.5" stroke="#8000FF" stroke-width="1.8" fill="none"/>
<path d="M808.4 471.23L812.7 475.53L808.4 479.83L804.1 475.53Z" fill="#fff" stroke="#8000FF" stroke-width="1.1"/>
<path d="M848.98 497.89H855.18M848.98 504.12H855.18" stroke="#8000FF" stroke-width="1.8" fill="none"/>
<path d="M852.08 496.7L856.38 501L852.08 505.3L847.78 501Z" fill="#fff" stroke="#8000FF" stroke-width="1.1"/>
<path d="M892.66 508.72H898.86M892.66 516.51H898.86" stroke="#8000FF" stroke-width="1.8" fill="none"/>
<path d="M895.76 508.31L900.06 512.61L895.76 516.91L891.46 512.61Z" fill="#fff" stroke="#8000FF" stroke-width="1.1"/>
<path d="M662.8 335H954V568.7H662.8Z" fill="none" stroke="#000" stroke-width="2.1"/>
<text x="654.8" y="557.82" text-anchor="end" font-size="14">0.0</text>
<text x="654.8" y="526.66" text-anchor="end" font-size="14">0.4</text>
<text x="654.8" y="495.5" text-anchor="end" font-size="14">0.8</text>
<text x="654.8" y="464.34" text-anchor="end" font-size="14">1.2</text>
<text x="654.8" y="433.18" text-anchor="end" font-size="14">1.6</text>
<text x="654.8" y="402.02" text-anchor="end" font-size="14">2.0</text>
<text x="654.8" y="370.86" text-anchor="end" font-size="14">2.4</text>
<text x="654.8" y="339.7" text-anchor="end" font-size="14">2.8</text>
<text x="662.8" y="588.4" text-anchor="middle" font-size="14">-40</text>
<text x="691.92" y="588.4" text-anchor="middle" font-size="14">-20</text>
<text x="721.04" y="588.4" text-anchor="middle" font-size="14">0</text>
<text x="750.16" y="588.4" text-anchor="middle" font-size="14">20</text>
<text x="779.28" y="588.4" text-anchor="middle" font-size="14">40</text>
<text x="808.4" y="588.4" text-anchor="middle" font-size="14">60</text>
<text x="837.52" y="588.4" text-anchor="middle" font-size="14">80</text>
<text x="866.64" y="588.4" text-anchor="middle" font-size="14">100</text>
<text x="895.76" y="588.4" text-anchor="middle" font-size="14">120</text>
<text x="924.88" y="588.4" text-anchor="middle" font-size="14">140</text>
<text x="954" y="588.4" text-anchor="middle" font-size="14">160</text>
<path d="M658.2 553.12H662.8M658.2 521.96H662.8M658.2 490.8H662.8M658.2 459.64H662.8M658.2 428.48H662.8M658.2 397.32H662.8M658.2 366.16H662.8M658.2 335H662.8M660.2 537.54H662.8M660.2 506.38H662.8M660.2 475.22H662.8M660.2 444.06H662.8M660.2 412.9H662.8M660.2 381.74H662.8M660.2 350.58H662.8M662.8 568.7V573.2M691.92 568.7V573.2M721.04 568.7V573.2M750.16 568.7V573.2M779.28 568.7V573.2M808.4 568.7V573.2M837.52 568.7V573.2M866.64 568.7V573.2M895.76 568.7V573.2M924.88 568.7V573.2M954 568.7V573.2M677.36 568.7V571.3M706.48 568.7V571.3M735.6 568.7V571.3M764.72 568.7V571.3M793.84 568.7V571.3M822.96 568.7V571.3M852.08 568.7V571.3M881.2 568.7V571.3M910.32 568.7V571.3M939.44 568.7V571.3" stroke="#000" stroke-width="1.5"/>
<text x="810.2" y="608.5" text-anchor="middle" font-size="14" textLength="66.5" lengthAdjust="spacingAndGlyphs">Time (day)</text>
<text transform="translate(605.8,448) rotate(-90)" text-anchor="middle" font-size="14.4" textLength="233" lengthAdjust="spacingAndGlyphs">Concentration of pyriminobac-methyl</text>
<text transform="translate(630.3,445.7) rotate(-90)" text-anchor="middle" font-size="14.4">in soil (mg kg<tspan dy="-6" font-size="13.5">-1</tspan><tspan dy="6">)</tspan></text>
<text x="770.1" y="359.1" font-size="15" textLength="55.6" lengthAdjust="spacingAndGlyphs">Aerobic,</text>
<text x="830.5" y="359.1" font-size="15" textLength="16.3" lengthAdjust="spacingAndGlyphs">80</text>
<text x="848.7" y="359.1" font-size="15" textLength="13.4" lengthAdjust="spacingAndGlyphs">%</text>
<text x="931.1" y="353.6" font-size="15.5">(e)</text>
<path d="M882.9 407.7H912.9" stroke="#000000" stroke-width="2"/>
<rect x="894.7" y="404.5" width="6.4" height="6.4" fill="#fff" stroke="#000000" stroke-width="1.1"/>
<text x="920" y="412.6" font-size="14">S1</text>
<path d="M882.9 425.5H912.9" stroke="#FF0000" stroke-width="2"/>
<circle cx="897.9" cy="425.5" r="3.89" fill="#fff" stroke="#FF0000" stroke-width="1.1"/>
<text x="920" y="430.4" font-size="14">S2</text>
<path d="M882.9 443.2H912.9" stroke="#0000FF" stroke-width="2"/>
<path d="M897.9 438.61L902.5 446.59L893.3 446.59Z" fill="#fff" stroke="#0000FF" stroke-width="1.1"/>
<text x="920" y="448.1" font-size="14">S3</text>
<path d="M882.9 461H912.9" stroke="#008000" stroke-width="2"/>
<path d="M897.9 465.59L902.5 457.61L893.3 457.61Z" fill="#fff" stroke="#008000" stroke-width="1.1"/>
<text x="920" y="465.9" font-size="14">S4</text>
<path d="M882.9 478.7H912.9" stroke="#8000FF" stroke-width="2"/>
<path d="M897.9 474.3L902.3 478.7L897.9 483.1L893.5 478.7Z" fill="#fff" stroke="#8000FF" stroke-width="1.1"/>
<text x="920" y="483.6" font-size="14">S5</text>
</svg></body></html>
